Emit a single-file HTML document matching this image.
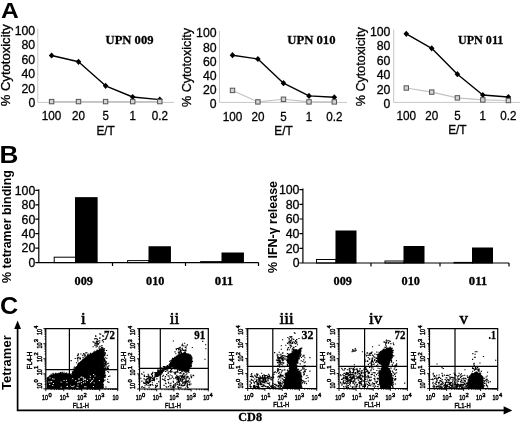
<!DOCTYPE html>
<html lang="en">
<head>
<meta charset="utf-8">
<title>Figure</title>
<style>
html,body{margin:0;padding:0;background:#fff;}
body{width:520px;height:423px;overflow:hidden;}
svg{display:block;}
.s{font-family:'Liberation Sans', Arial, sans-serif;stroke:#000;stroke-width:.3px;}
.sb{font-family:'Liberation Sans', Arial, sans-serif;font-weight:bold;}
.r{font-family:'Liberation Serif', 'Times New Roman', serif;}
.rb{font-family:'Liberation Serif', 'Times New Roman', serif;font-weight:bold;stroke:#000;stroke-width:.3px;}
</style>
</head>
<body>
<svg width="520" height="423" viewBox="0 0 520 423">
<defs><filter id="soft" x="0" y="0" width="520" height="423" filterUnits="userSpaceOnUse"><feGaussianBlur stdDeviation="0.4"/></filter></defs>
<rect width="520" height="423" fill="#fff"/>
<g filter="url(#soft)">
<text class="sb" font-size="22.3" textLength="17.8" lengthAdjust="spacingAndGlyphs" x="1.0" y="18.2">A</text>
<text class="sb" font-size="23" textLength="18.9" lengthAdjust="spacingAndGlyphs" x="-0.5" y="163.2">B</text>
<text class="sb" font-size="23" textLength="18.2" lengthAdjust="spacingAndGlyphs" x="-0.1" y="313.7">C</text>
<path d="M37.8 28.5V102.4H174" fill="none" stroke="#c6c6c6" stroke-width="1"/>
<text class="s" font-size="12" textLength="6.8" lengthAdjust="spacingAndGlyphs" x="28.4" y="107.4">0</text>
<text class="s" font-size="12" textLength="13.7" lengthAdjust="spacingAndGlyphs" x="21.5" y="92.9">20</text>
<text class="s" font-size="12" textLength="13.7" lengthAdjust="spacingAndGlyphs" x="21.5" y="78.4">40</text>
<text class="s" font-size="12" textLength="13.7" lengthAdjust="spacingAndGlyphs" x="21.5" y="63.8">60</text>
<text class="s" font-size="12" textLength="13.7" lengthAdjust="spacingAndGlyphs" x="21.5" y="49.3">80</text>
<text class="s" font-size="12" textLength="20.5" lengthAdjust="spacingAndGlyphs" x="14.7" y="34.8">100</text>
<text class="s" font-size="12" textLength="82" lengthAdjust="spacingAndGlyphs" transform="translate(9.7 106.3) rotate(-90)">% Cytotoxicity</text>
<polyline points="51.6,101.6 78.5,101.6 105.6,101.6 132.7,101.6 159.8,101.6" fill="none" stroke="#c2c2c2" stroke-width="1.1"/>
<polyline points="51.6,55.5 78.5,61.8 105.6,85.8 132.7,97 159.8,99.6" fill="none" stroke="#000" stroke-width="1.4" stroke-linejoin="round"/>
<path d="M48.8 55.5L51.6 52.4L54.4 55.5L51.6 58.6Z" fill="#000"/>
<path d="M75.7 61.8L78.5 58.7L81.3 61.8L78.5 64.9Z" fill="#000"/>
<path d="M102.8 85.8L105.6 82.7L108.4 85.8L105.6 88.9Z" fill="#000"/>
<path d="M129.9 97L132.7 93.9L135.5 97L132.7 100.1Z" fill="#000"/>
<path d="M157.0 99.6L159.8 96.5L162.6 99.6L159.8 102.7Z" fill="#000"/>
<rect x="49.4" y="99.4" width="4.4" height="4.4" fill="#d4d4d4" stroke="#555" stroke-width="1"/>
<rect x="76.3" y="99.4" width="4.4" height="4.4" fill="#d4d4d4" stroke="#555" stroke-width="1"/>
<rect x="103.4" y="99.4" width="4.4" height="4.4" fill="#d4d4d4" stroke="#555" stroke-width="1"/>
<rect x="130.5" y="99.4" width="4.4" height="4.4" fill="#d4d4d4" stroke="#555" stroke-width="1"/>
<rect x="157.6" y="99.4" width="4.4" height="4.4" fill="#d4d4d4" stroke="#555" stroke-width="1"/>
<text class="s" font-size="12" textLength="19.6" lengthAdjust="spacingAndGlyphs" x="41.8" y="120.4">100</text>
<text class="s" font-size="12" textLength="13.0" lengthAdjust="spacingAndGlyphs" x="72.0" y="120.4">20</text>
<text class="s" font-size="12" textLength="6.4" lengthAdjust="spacingAndGlyphs" x="102.4" y="120.4">5</text>
<text class="s" font-size="12" textLength="6.4" lengthAdjust="spacingAndGlyphs" x="129.5" y="120.4">1</text>
<text class="s" font-size="12" textLength="16.2" lengthAdjust="spacingAndGlyphs" x="151.7" y="120.4">0.2</text>
<text class="s" font-size="12" textLength="18.4" lengthAdjust="spacingAndGlyphs" x="96.4" y="135">E/T</text>
<text class="rb" font-size="13.5" textLength="47.9" lengthAdjust="spacingAndGlyphs" x="105.6" y="43.7">UPN 009</text>
<path d="M219.5 31V102.4H347" fill="none" stroke="#c6c6c6" stroke-width="1"/>
<text class="s" font-size="12" textLength="6.8" lengthAdjust="spacingAndGlyphs" x="209.8" y="108.1">0</text>
<text class="s" font-size="12" textLength="13.7" lengthAdjust="spacingAndGlyphs" x="202.9" y="93.9">20</text>
<text class="s" font-size="12" textLength="13.7" lengthAdjust="spacingAndGlyphs" x="202.9" y="79.8">40</text>
<text class="s" font-size="12" textLength="13.7" lengthAdjust="spacingAndGlyphs" x="202.9" y="65.6">60</text>
<text class="s" font-size="12" textLength="13.7" lengthAdjust="spacingAndGlyphs" x="202.9" y="51.5">80</text>
<text class="s" font-size="12" textLength="20.5" lengthAdjust="spacingAndGlyphs" x="196.1" y="37.3">100</text>
<text class="s" font-size="12" textLength="79" lengthAdjust="spacingAndGlyphs" transform="translate(191 107) rotate(-90)">% Cytotoxicity</text>
<polyline points="232.5,90.4 257.9,101.9 283.5,99.3 309,101.9 334.3,101.9" fill="none" stroke="#c2c2c2" stroke-width="1.1"/>
<polyline points="232.5,55.2 257.9,59 283.5,83.2 309,95.9 334.3,97.3" fill="none" stroke="#000" stroke-width="1.4" stroke-linejoin="round"/>
<path d="M229.7 55.2L232.5 52.1L235.3 55.2L232.5 58.3Z" fill="#000"/>
<path d="M255.1 59L257.9 55.9L260.7 59L257.9 62.1Z" fill="#000"/>
<path d="M280.7 83.2L283.5 80.1L286.3 83.2L283.5 86.3Z" fill="#000"/>
<path d="M306.2 95.9L309 92.8L311.8 95.9L309 99.0Z" fill="#000"/>
<path d="M331.5 97.3L334.3 94.2L337.1 97.3L334.3 100.4Z" fill="#000"/>
<rect x="230.3" y="88.2" width="4.4" height="4.4" fill="#d4d4d4" stroke="#555" stroke-width="1"/>
<rect x="255.7" y="99.7" width="4.4" height="4.4" fill="#d4d4d4" stroke="#555" stroke-width="1"/>
<rect x="281.3" y="97.1" width="4.4" height="4.4" fill="#d4d4d4" stroke="#555" stroke-width="1"/>
<rect x="306.8" y="99.7" width="4.4" height="4.4" fill="#d4d4d4" stroke="#555" stroke-width="1"/>
<rect x="332.1" y="99.7" width="4.4" height="4.4" fill="#d4d4d4" stroke="#555" stroke-width="1"/>
<text class="s" font-size="12" textLength="19.6" lengthAdjust="spacingAndGlyphs" x="222.7" y="121">100</text>
<text class="s" font-size="12" textLength="13.0" lengthAdjust="spacingAndGlyphs" x="251.4" y="121">20</text>
<text class="s" font-size="12" textLength="6.4" lengthAdjust="spacingAndGlyphs" x="280.3" y="121">5</text>
<text class="s" font-size="12" textLength="6.4" lengthAdjust="spacingAndGlyphs" x="305.8" y="121">1</text>
<text class="s" font-size="12" textLength="16.2" lengthAdjust="spacingAndGlyphs" x="326.2" y="121">0.2</text>
<text class="s" font-size="12" textLength="18.4" lengthAdjust="spacingAndGlyphs" x="274.3" y="134.5">E/T</text>
<text class="rb" font-size="13.5" textLength="48.2" lengthAdjust="spacingAndGlyphs" x="287.3" y="43.7">UPN 010</text>
<path d="M393.7 29.5V102.4H520" fill="none" stroke="#c6c6c6" stroke-width="1"/>
<text class="s" font-size="12" textLength="6.8" lengthAdjust="spacingAndGlyphs" x="383.6" y="108.1">0</text>
<text class="s" font-size="12" textLength="13.7" lengthAdjust="spacingAndGlyphs" x="376.7" y="93.6">20</text>
<text class="s" font-size="12" textLength="13.7" lengthAdjust="spacingAndGlyphs" x="376.7" y="79.2">40</text>
<text class="s" font-size="12" textLength="13.7" lengthAdjust="spacingAndGlyphs" x="376.7" y="64.7">60</text>
<text class="s" font-size="12" textLength="13.7" lengthAdjust="spacingAndGlyphs" x="376.7" y="50.3">80</text>
<text class="s" font-size="12" textLength="20.5" lengthAdjust="spacingAndGlyphs" x="369.9" y="35.8">100</text>
<text class="s" font-size="12" textLength="79" lengthAdjust="spacingAndGlyphs" transform="translate(365 106.3) rotate(-90)">% Cytotoxicity</text>
<polyline points="406.3,88 431.7,92.1 457.4,97.9 482.8,99.9 508.4,100.5" fill="none" stroke="#c2c2c2" stroke-width="1.1"/>
<polyline points="406.3,33.8 431.7,48.3 457.4,74.2 482.8,95 508.4,97" fill="none" stroke="#000" stroke-width="1.4" stroke-linejoin="round"/>
<path d="M403.5 33.8L406.3 30.7L409.1 33.8L406.3 36.9Z" fill="#000"/>
<path d="M428.9 48.3L431.7 45.2L434.5 48.3L431.7 51.4Z" fill="#000"/>
<path d="M454.6 74.2L457.4 71.1L460.2 74.2L457.4 77.3Z" fill="#000"/>
<path d="M480.0 95L482.8 91.9L485.6 95L482.8 98.1Z" fill="#000"/>
<path d="M505.6 97L508.4 93.9L511.2 97L508.4 100.1Z" fill="#000"/>
<rect x="404.1" y="85.8" width="4.4" height="4.4" fill="#d4d4d4" stroke="#555" stroke-width="1"/>
<rect x="429.5" y="89.9" width="4.4" height="4.4" fill="#d4d4d4" stroke="#555" stroke-width="1"/>
<rect x="455.2" y="95.7" width="4.4" height="4.4" fill="#d4d4d4" stroke="#555" stroke-width="1"/>
<rect x="480.6" y="97.7" width="4.4" height="4.4" fill="#d4d4d4" stroke="#555" stroke-width="1"/>
<rect x="506.2" y="98.3" width="4.4" height="4.4" fill="#d4d4d4" stroke="#555" stroke-width="1"/>
<text class="s" font-size="12" textLength="19.6" lengthAdjust="spacingAndGlyphs" x="396.5" y="120.4">100</text>
<text class="s" font-size="12" textLength="13.0" lengthAdjust="spacingAndGlyphs" x="425.2" y="120.4">20</text>
<text class="s" font-size="12" textLength="6.4" lengthAdjust="spacingAndGlyphs" x="454.2" y="120.4">5</text>
<text class="s" font-size="12" textLength="6.4" lengthAdjust="spacingAndGlyphs" x="479.6" y="120.4">1</text>
<text class="s" font-size="12" textLength="16.2" lengthAdjust="spacingAndGlyphs" x="500.3" y="120.4">0.2</text>
<text class="s" font-size="12" textLength="18.4" lengthAdjust="spacingAndGlyphs" x="448.2" y="134">E/T</text>
<text class="rb" font-size="13.5" textLength="45.3" lengthAdjust="spacingAndGlyphs" x="458" y="43.7">UPN 011</text>
<rect x="54.2" y="257.2" width="21.3" height="5.4" fill="#fff" stroke="#000" stroke-width="1"/>
<rect x="75.5" y="197.7" width="21.6" height="64.9" fill="#000" stroke="#000" stroke-width="1"/>
<rect x="127.6" y="260.6" width="21.4" height="2.0" fill="#fff" stroke="#000" stroke-width="1"/>
<rect x="149" y="246.8" width="21.4" height="15.8" fill="#000" stroke="#000" stroke-width="1"/>
<rect x="200.6" y="261.6" width="21.4" height="1.0" fill="#fff" stroke="#000" stroke-width="1"/>
<rect x="222" y="253" width="21.4" height="9.6" fill="#000" stroke="#000" stroke-width="1"/>
<path d="M38.8 189.3V262.6H258.5M112.5 262.6v3.5M185.5 262.6v3.5M258.5 262.6v3.5M35.3 262.6H38.8M35.3 248.1H38.8M35.3 233.7H38.8M35.3 219.2H38.8M35.3 204.8H38.8M35.3 190.3H38.8" fill="none" stroke="#000" stroke-width="1.2"/>
<text class="s" font-size="12" textLength="6.8" lengthAdjust="spacingAndGlyphs" x="28.5" y="266.9">0</text>
<text class="s" font-size="12" textLength="13.8" lengthAdjust="spacingAndGlyphs" x="21.5" y="252.4">20</text>
<text class="s" font-size="12" textLength="13.8" lengthAdjust="spacingAndGlyphs" x="21.5" y="238.0">40</text>
<text class="s" font-size="12" textLength="13.8" lengthAdjust="spacingAndGlyphs" x="21.5" y="223.5">60</text>
<text class="s" font-size="12" textLength="13.8" lengthAdjust="spacingAndGlyphs" x="21.5" y="209.1">80</text>
<text class="s" font-size="12" textLength="20.6" lengthAdjust="spacingAndGlyphs" x="14.7" y="194.6">100</text>
<text class="rb" font-size="12.5" textLength="18.4" lengthAdjust="spacingAndGlyphs" x="74.6" y="284.6">009</text>
<text class="rb" font-size="12.5" textLength="18.4" lengthAdjust="spacingAndGlyphs" x="146.1" y="284.6">010</text>
<text class="rb" font-size="12.5" textLength="18.4" lengthAdjust="spacingAndGlyphs" x="214.8" y="284.6">011</text>
<text class="sb" font-size="13" textLength="113" lengthAdjust="spacingAndGlyphs" transform="translate(10.9 283) rotate(-90)">% tetramer binding</text>
<rect x="316.5" y="259.5" width="19.5" height="3.5" fill="#fff" stroke="#000" stroke-width="1"/>
<rect x="336" y="231" width="20" height="32" fill="#000" stroke="#000" stroke-width="1"/>
<rect x="385" y="261" width="19" height="2" fill="#fff" stroke="#000" stroke-width="1"/>
<rect x="404" y="246.5" width="20" height="16.5" fill="#000" stroke="#000" stroke-width="1"/>
<rect x="454" y="262.4" width="18.5" height="0.6" fill="#fff" stroke="#000" stroke-width="1"/>
<rect x="472.5" y="248" width="20.0" height="15" fill="#000" stroke="#000" stroke-width="1"/>
<path d="M302.9 188.6V263H509M371 263v3.5M440 263v3.5M509 263v3.5M299.4 263.0H302.9M299.4 248.3H302.9M299.4 233.6H302.9M299.4 219.0H302.9M299.4 204.3H302.9M299.4 189.6H302.9" fill="none" stroke="#000" stroke-width="1.2"/>
<text class="s" font-size="12" textLength="6.8" lengthAdjust="spacingAndGlyphs" x="292.7" y="267.3">0</text>
<text class="s" font-size="12" textLength="13.8" lengthAdjust="spacingAndGlyphs" x="285.7" y="252.6">20</text>
<text class="s" font-size="12" textLength="13.8" lengthAdjust="spacingAndGlyphs" x="285.7" y="237.9">40</text>
<text class="s" font-size="12" textLength="13.8" lengthAdjust="spacingAndGlyphs" x="285.7" y="223.3">60</text>
<text class="s" font-size="12" textLength="13.8" lengthAdjust="spacingAndGlyphs" x="285.7" y="208.6">80</text>
<text class="s" font-size="12" textLength="20.6" lengthAdjust="spacingAndGlyphs" x="278.9" y="193.9">100</text>
<text class="rb" font-size="12.5" textLength="18.4" lengthAdjust="spacingAndGlyphs" x="333.5" y="284.6">009</text>
<text class="rb" font-size="12.5" textLength="18.4" lengthAdjust="spacingAndGlyphs" x="401.5" y="284.6">010</text>
<text class="rb" font-size="12.5" textLength="18.4" lengthAdjust="spacingAndGlyphs" x="468.8" y="284.6">011</text>
<text class="sb" font-size="13" textLength="92" lengthAdjust="spacingAndGlyphs" transform="translate(276.8 273) rotate(-90)">% IFN-&#947; release</text>
<path d="M17.6 327V410.3H505" fill="none" stroke="#000" stroke-width="1.7"/>
<path d="M17.6 320.5L21 329H14.2Z" fill="#000"/>
<path d="M512.3 410.4L503.6 406.3V414.5Z" fill="#000"/>
<text class="sb" font-size="12.8" textLength="54.7" lengthAdjust="spacingAndGlyphs" transform="translate(10.9 390) rotate(-90)">Tetramer</text>
<text class="rb" font-size="12" textLength="23.7" lengthAdjust="spacingAndGlyphs" x="238.3" y="421.3">CD8</text>
<path d="M47.0 388.5L47.0 378.0L51.0 375.5L56.0 374.0L61.5 373.3L67.0 374.0L71.0 375.5L72.0 388.5Z" fill="#000" stroke="#000" stroke-width="0.8" stroke-linejoin="round"/>
<path d="M72.0 388.5L72.0 376.0L73.5 371.0L76.2 367.0L79.5 363.0L83.5 359.0L89.0 355.3L94.5 352.3L99.0 350.3L102.6 348.3L103.8 350.0L103.6 360.0L104.0 370.0L103.0 380.0L102.5 388.5Z" fill="#000" stroke="#000" stroke-width="0.8" stroke-linejoin="round"/>
<path d="M47.6 386.0h.1M47.3 384.1h.1M47.2 383.7h.1M47.4 387.5h.1M47.5 387.4h.1M47.4 380.8h.1M47.5 387.8h.1M47.1 380.5h.1M47.8 379.4h.1M48.1 382.0h.1M48.4 381.6h.1M47.3 378.0h.1M48.7 378.2h.1M47.5 378.4h.1M51.2 376.2h.1M50.2 375.7h.1M50.3 376.6h.1M49.8 375.8h.1M47.8 378.1h.1M48.8 377.4h.1M51.1 374.2h.1M53.4 374.4h.1M55.9 375.0h.1M55.8 373.4h.1M52.7 375.1h.1M54.4 374.7h.1M52.4 375.8h.1M51.7 375.4h.1M51.4 375.5h.1M55.1 373.9h.1M51.9 375.7h.1M53.0 373.4h.1M58.2 373.7h.1M56.2 374.4h.1M60.6 373.6h.1M60.8 373.3h.1M59.9 373.8h.1M62.1 372.4h.1M57.1 374.2h.1M59.0 373.2h.1M58.0 375.1h.1M62.2 372.2h.1M60.5 372.9h.1M58.7 373.8h.1M56.0 374.6h.1M66.1 373.6h.1M68.5 373.8h.1M63.6 374.1h.1M62.9 374.4h.1M66.9 373.2h.1M65.2 373.5h.1M66.2 373.1h.1M65.2 373.9h.1M65.2 375.0h.1M66.2 374.4h.1M66.6 373.5h.1M63.1 374.7h.1M66.8 375.0h.1M70.5 374.9h.1M69.3 374.9h.1M70.3 374.7h.1M69.3 376.0h.1M70.4 375.8h.1M68.2 375.4h.1M67.7 374.6h.1M70.1 376.0h.1M70.0 374.4h.1M69.7 375.4h.1M72.3 382.4h.1M72.5 377.9h.1M70.0 377.9h.1M71.1 383.5h.1M71.6 382.4h.1M71.6 383.4h.1M70.8 385.5h.1M72.5 385.0h.1M70.7 383.4h.1M70.8 384.8h.1M72.6 381.3h.1M72.4 386.7h.1M72.9 382.3h.1M71.7 377.8h.1M71.1 376.7h.1M72.0 382.6h.1M70.9 376.4h.1M72.6 376.0h.1M71.9 378.1h.1M72.9 381.7h.1M70.3 378.0h.1M71.6 380.5h.1M72.7 385.0h.1M72.1 381.3h.1M71.4 383.6h.1M72.5 386.4h.1M71.1 377.1h.1M71.7 386.0h.1M72.6 380.3h.1M72.3 380.2h.1M71.5 382.6h.1M70.3 387.8h.1M71.2 387.1h.1M53.2 387.1h.1M70.9 387.9h.1M61.9 387.7h.1M65.9 387.3h.1M66.4 387.0h.1M70.9 387.0h.1M64.4 387.9h.1M59.8 387.4h.1M71.5 387.4h.1M53.2 387.3h.1M60.5 387.7h.1M50.7 387.7h.1M50.4 387.7h.1M55.5 387.2h.1M50.9 387.5h.1M61.7 387.5h.1M69.9 387.3h.1M65.8 387.5h.1M51.7 387.7h.1M65.0 387.4h.1M61.0 387.8h.1M67.4 387.9h.1M58.4 386.9h.1M64.2 387.5h.1M61.6 387.8h.1M66.9 387.3h.1M66.0 387.1h.1M71.6 387.7h.1M65.4 387.3h.1M52.6 387.5h.1M49.5 387.6h.1M48.1 387.4h.1M57.3 387.9h.1M48.9 387.6h.1M52.3 387.9h.1M60.1 387.3h.1M50.0 387.7h.1M54.7 386.9h.1M71.7 387.0h.1M69.9 387.7h.1M55.5 387.7h.1M61.1 387.4h.1M52.4 387.3h.1M56.6 387.6h.1M66.2 387.1h.1M54.1 387.5h.1M59.5 387.3h.1M56.4 387.0h.1M68.3 387.1h.1M64.3 387.1h.1M70.4 386.9h.1M54.4 387.6h.1M58.3 387.9h.1M69.4 387.7h.1M47.7 387.7h.1M61.4 386.7h.1M60.7 387.8h.1M72.2 377.6h.1M70.2 386.4h.1M72.4 386.0h.1M71.8 376.9h.1M71.8 377.3h.1M71.2 387.8h.1M72.4 385.3h.1M72.0 384.5h.1M72.2 378.8h.1M71.6 375.3h.1M71.5 385.4h.1M71.4 375.6h.1M72.0 383.4h.1M72.3 386.7h.1M72.0 377.4h.1M72.3 382.8h.1M73.0 375.6h.1M73.5 379.7h.1M72.0 381.4h.1M70.8 379.7h.1M71.9 380.7h.1M72.6 377.5h.1M71.6 385.4h.1M71.9 377.4h.1M71.3 384.5h.1M72.3 386.8h.1M71.5 377.2h.1M72.8 377.2h.1M72.1 387.1h.1M72.5 384.5h.1M71.0 374.0h.1M72.5 372.7h.1M72.3 373.9h.1M71.8 377.6h.1M71.1 375.3h.1M73.4 372.3h.1M71.7 375.2h.1M74.3 370.0h.1M73.2 376.1h.1M72.4 371.7h.1M70.7 377.1h.1M74.5 370.3h.1M74.5 370.3h.1M74.2 367.3h.1M74.7 367.1h.1M74.5 369.1h.1M75.8 369.5h.1M75.1 368.8h.1M73.4 369.1h.1M74.6 370.9h.1M74.7 369.0h.1M75.8 368.6h.1M75.8 368.9h.1M78.6 363.5h.1M78.2 365.7h.1M78.1 365.9h.1M77.9 364.6h.1M78.9 364.1h.1M75.9 367.5h.1M78.9 365.5h.1M78.1 364.0h.1M78.9 364.4h.1M77.2 367.3h.1M78.0 365.6h.1M76.9 367.0h.1M82.6 360.2h.1M81.5 363.4h.1M80.3 362.5h.1M82.3 360.5h.1M84.2 360.0h.1M81.5 363.3h.1M83.6 360.2h.1M80.5 362.0h.1M80.8 362.3h.1M81.3 361.5h.1M83.5 359.8h.1M83.1 359.0h.1M79.0 362.9h.1M88.8 356.3h.1M89.2 355.8h.1M88.0 355.8h.1M85.2 359.5h.1M84.9 356.4h.1M85.1 359.6h.1M86.8 357.9h.1M85.2 357.9h.1M88.6 355.7h.1M89.2 355.6h.1M87.9 356.7h.1M85.6 358.4h.1M86.6 357.0h.1M87.8 354.6h.1M87.2 355.7h.1M89.9 355.3h.1M89.8 356.2h.1M90.5 354.6h.1M91.1 355.5h.1M94.4 352.6h.1M90.2 355.5h.1M92.4 353.3h.1M90.5 353.3h.1M93.7 352.1h.1M90.0 354.4h.1M91.3 354.5h.1M90.1 355.3h.1M90.6 354.2h.1M88.9 355.7h.1M91.9 355.1h.1M97.8 351.0h.1M97.2 350.0h.1M99.2 350.6h.1M95.8 353.9h.1M97.8 350.8h.1M97.8 350.8h.1M98.3 350.6h.1M96.8 350.7h.1M96.5 352.0h.1M94.8 351.2h.1M96.1 351.9h.1M101.7 349.5h.1M100.0 349.0h.1M99.8 350.6h.1M100.8 348.9h.1M99.3 349.2h.1M99.4 351.5h.1M99.5 349.4h.1M102.2 347.6h.1M100.7 350.7h.1M104.5 348.7h.1M103.4 348.3h.1M103.2 349.9h.1M101.6 348.0h.1M104.5 359.7h.1M103.3 353.7h.1M102.0 352.6h.1M102.4 351.2h.1M103.7 360.0h.1M104.5 359.3h.1M104.5 350.2h.1M102.6 358.1h.1M103.9 351.1h.1M104.5 352.9h.1M103.9 352.6h.1M103.4 355.4h.1M103.5 350.9h.1M102.6 349.9h.1M104.0 350.1h.1M102.7 355.7h.1M102.9 353.5h.1M103.3 353.6h.1M104.7 354.5h.1M103.8 356.2h.1M103.2 357.9h.1M104.0 355.0h.1M104.4 354.7h.1M104.7 355.4h.1M103.5 359.5h.1M104.6 365.4h.1M104.1 363.7h.1M105.2 368.5h.1M104.7 370.1h.1M105.4 364.5h.1M104.1 360.0h.1M102.9 361.7h.1M104.1 361.2h.1M104.5 368.9h.1M104.1 369.8h.1M103.7 365.2h.1M104.6 363.3h.1M104.2 366.5h.1M104.6 368.5h.1M102.9 367.5h.1M102.5 364.8h.1M104.7 361.0h.1M103.9 363.4h.1M103.4 369.6h.1M103.5 367.8h.1M105.2 367.9h.1M102.3 360.9h.1M103.5 365.3h.1M104.4 370.1h.1M102.6 376.5h.1M103.5 379.4h.1M103.4 376.5h.1M104.2 374.0h.1M102.9 371.7h.1M103.2 371.4h.1M104.4 371.1h.1M104.7 372.1h.1M103.3 378.0h.1M104.8 372.7h.1M102.8 376.5h.1M104.7 374.0h.1M103.9 372.4h.1M103.0 375.6h.1M104.0 370.5h.1M103.8 375.4h.1M103.1 371.4h.1M103.5 376.0h.1M103.6 373.3h.1M103.4 377.7h.1M104.7 369.0h.1M103.5 373.8h.1M104.2 372.6h.1M102.3 381.4h.1M103.3 384.9h.1M102.1 382.0h.1M102.0 386.6h.1M103.2 385.3h.1M103.1 387.5h.1M102.8 380.2h.1M101.9 387.7h.1M102.9 384.4h.1M102.3 384.3h.1M101.1 387.3h.1M103.2 385.3h.1M102.1 385.9h.1M102.7 381.6h.1M102.7 387.9h.1M103.6 380.6h.1M103.1 381.2h.1M101.9 385.0h.1M103.5 386.7h.1M103.4 381.8h.1M76.7 387.0h.1M74.9 387.4h.1M96.4 387.0h.1M77.0 387.5h.1M76.9 387.0h.1M100.5 387.8h.1M95.9 387.3h.1M101.8 387.5h.1M80.2 387.8h.1M71.6 386.9h.1M84.4 387.6h.1M89.3 387.8h.1M80.5 387.3h.1M77.4 387.3h.1M97.8 386.9h.1M79.3 387.2h.1M86.2 387.5h.1M96.2 387.5h.1M77.0 387.7h.1M94.1 386.9h.1M88.1 386.9h.1M100.3 387.4h.1M78.0 387.7h.1M89.0 387.9h.1M100.0 387.6h.1M96.1 387.5h.1M86.1 387.0h.1M94.5 387.0h.1M79.5 387.4h.1M91.7 387.1h.1M76.1 387.4h.1M96.1 387.9h.1M85.4 387.1h.1M75.5 387.2h.1M92.9 387.1h.1M98.1 387.3h.1M92.1 386.9h.1M93.3 387.8h.1M81.8 387.8h.1M97.8 387.1h.1M78.2 387.7h.1M96.3 387.0h.1M96.1 387.2h.1M90.6 387.4h.1M86.7 387.9h.1M97.6 387.6h.1M80.6 387.3h.1M85.0 387.7h.1M95.3 387.0h.1M78.4 387.1h.1M81.3 387.9h.1M92.7 387.1h.1M89.9 387.3h.1M83.3 387.8h.1M88.1 387.6h.1M82.3 387.6h.1M82.7 387.8h.1M87.8 387.8h.1M86.6 387.4h.1M73.5 387.7h.1M83.8 387.7h.1M86.0 387.4h.1M85.0 387.8h.1M95.8 387.8h.1M80.8 387.2h.1M92.2 387.9h.1M91.1 387.2h.1M89.5 387.8h.1M94.6 387.7h.1M73.3 387.9h.1M77.7 387.0h.1M98.8 387.2h.1M82.2 387.7h.1M99.6 350.8h.1M96.1 346.9h.1M100.7 334.2h.1M96.2 343.1h.1M97.1 341.5h.1M99.8 337.8h.1M99.8 338.5h.1M97.0 344.2h.1M96.9 343.3h.1M103.0 339.7h.1M98.1 344.5h.1M97.5 346.1h.1M94.9 345.4h.1M97.1 339.1h.1M103.5 336.1h.1M103.4 341.9h.1M102.6 336.0h.1M101.9 345.6h.1M98.2 341.1h.1M105.4 339.2h.1M97.3 339.6h.1M99.7 342.2h.1M99.0 347.9h.1M97.6 343.7h.1M102.6 335.9h.1M101.4 347.2h.1M94.7 338.9h.1M95.6 335.7h.1M99.8 333.9h.1M99.9 346.4h.1M94.0 342.2h.1M93.1 346.8h.1M96.4 341.4h.1M98.7 343.5h.1M97.5 342.0h.1M97.0 342.6h.1M95.2 343.1h.1M93.1 341.9h.1M103.9 339.5h.1M95.0 344.0h.1M95.8 336.4h.1M96.4 345.2h.1M99.6 340.7h.1M95.9 338.5h.1M102.3 340.8h.1M78.2 353.9h.1M76.5 362.8h.1M77.4 357.9h.1M82.8 355.4h.1M80.9 354.0h.1M77.8 360.9h.1M79.0 358.8h.1M75.2 358.5h.1M83.0 357.4h.1M77.5 359.0h.1M83.5 354.0h.1M83.9 353.6h.1M78.8 357.4h.1M71.1 360.6h.1M78.0 355.1h.1M80.3 358.1h.1M80.4 359.0h.1M77.4 355.7h.1M88.2 354.0h.1M85.8 352.9h.1M85.2 355.1h.1M84.6 354.9h.1M86.8 352.7h.1M78.1 355.0h.1M86.6 352.7h.1M104.4 360.5h.1M105.3 357.8h.1M105.6 363.0h.1M105.2 360.3h.1M106.1 364.3h.1M106.2 370.0h.1M106.5 350.5h.1M105.2 361.6h.1M107.2 355.4h.1M104.9 365.6h.1M105.5 375.9h.1M105.3 375.7h.1M103.8 353.5h.1M107.8 371.5h.1M106.7 369.0h.1M106.7 358.3h.1M107.4 363.7h.1M107.5 368.7h.1M103.0 357.7h.1M107.7 366.9h.1M105.4 369.9h.1M105.4 363.6h.1M106.2 369.2h.1M108.3 368.4h.1M108.8 382.4h.1M108.6 376.5h.1M106.2 369.1h.1M105.8 362.2h.1M105.9 362.9h.1M108.5 372.3h.1M105.3 352.7h.1M105.9 364.7h.1M104.4 358.9h.1M102.6 372.6h.1M105.9 387.0h.1M106.0 366.8h.1M108.2 369.1h.1M106.3 365.0h.1M105.1 380.0h.1M107.5 381.7h.1M105.5 368.2h.1M104.7 375.7h.1M103.9 372.5h.1M107.6 379.3h.1M104.6 376.7h.1M104.9 361.9h.1M104.0 377.2h.1M108.5 363.2h.1M104.9 365.3h.1M109.8 376.0h.1M105.2 353.6h.1M105.0 377.5h.1M108.8 365.9h.1M105.0 363.9h.1M103.2 375.3h.1M104.4 376.5h.1M103.4 357.8h.1M106.4 361.9h.1M107.2 368.1h.1M104.2 373.0h.1M104.0 380.8h.1M102.5 379.3h.1M105.1 375.0h.1M69.4 334.6h.1M60.4 372.6h.1M88.2 368.7h.1M64.0 372.3h.1" fill="none" stroke="#000" stroke-width="1.1" stroke-linecap="square"/>
<path d="M85.9 386.8h.1M72.9 386.7h.1M78.8 379.1h.1M81.7 377.0h.1M83.5 382.7h.1M75.7 380.6h.1M85.4 379.7h.1M77.0 387.3h.1M71.9 386.5h.1M79.1 378.9h.1M77.9 387.9h.1M72.7 378.7h.1M83.4 378.8h.1M84.7 379.4h.1M85.3 382.1h.1M80.9 377.3h.1M83.2 377.6h.1M81.3 381.6h.1M81.6 383.8h.1M83.4 380.2h.1M85.1 378.9h.1M74.0 385.9h.1M77.7 382.7h.1M78.9 382.0h.1M84.7 386.7h.1M78.0 385.0h.1M79.7 381.9h.1M53.9 379.1h.1M49.6 384.4h.1M52.6 378.8h.1M51.4 381.6h.1M53.4 383.5h.1M50.9 381.7h.1M49.9 377.9h.1M48.9 382.0h.1M52.7 385.6h.1M66.9 382.7h.1M66.4 380.3h.1M61.2 387.2h.1M67.4 386.3h.1M69.3 387.5h.1M64.0 380.4h.1M61.1 382.1h.1M69.9 385.2h.1M67.0 386.6h.1M94.9 376.0h.1M93.4 386.6h.1M93.5 378.9h.1M90.6 382.6h.1M99.3 380.6h.1M93.6 374.5h.1M90.1 378.7h.1M87.4 380.4h.1M94.1 382.9h.1M92.2 380.5h.1M90.4 376.2h.1M91.6 381.4h.1" fill="none" stroke="#fff" stroke-width="1.0" stroke-linecap="square"/>
<path d="M45.8 328.6H117.7V388.8H45.8Z" fill="none" stroke="#000" stroke-width="1.2"/>
<path d="M69.4 328.6V388.8M45.8 369.6H117.7" fill="none" stroke="#000" stroke-width="1.2"/>
<path d="M45.8 388.8v2.4M45.8 388.8h-2.4M51.2 388.8v1.2M45.8 384.3h-1.2M54.4 388.8v1.2M45.8 381.6h-1.2M56.6 388.8v1.2M45.8 379.7h-1.2M58.4 388.8v1.2M45.8 378.3h-1.2M59.8 388.8v1.2M45.8 377.1h-1.2M61.0 388.8v1.2M45.8 376.1h-1.2M62.0 388.8v1.2M45.8 375.2h-1.2M63.0 388.8v1.2M45.8 374.4h-1.2M63.8 388.8v2.4M45.8 373.8h-2.4M69.2 388.8v1.2M45.8 369.2h-1.2M72.4 388.8v1.2M45.8 366.6h-1.2M74.6 388.8v1.2M45.8 364.7h-1.2M76.3 388.8v1.2M45.8 363.2h-1.2M77.8 388.8v1.2M45.8 362.0h-1.2M79.0 388.8v1.2M45.8 361.0h-1.2M80.0 388.8v1.2M45.8 360.2h-1.2M80.9 388.8v1.2M45.8 359.4h-1.2M81.8 388.8v2.4M45.8 358.7h-2.4M87.2 388.8v1.2M45.8 354.2h-1.2M90.3 388.8v1.2M45.8 351.5h-1.2M92.6 388.8v1.2M45.8 349.6h-1.2M94.3 388.8v1.2M45.8 348.2h-1.2M95.7 388.8v1.2M45.8 347.0h-1.2M96.9 388.8v1.2M45.8 346.0h-1.2M98.0 388.8v1.2M45.8 345.1h-1.2M98.9 388.8v1.2M45.8 344.3h-1.2M99.7 388.8v2.4M45.8 343.7h-2.4M105.1 388.8v1.2M45.8 339.1h-1.2M108.3 388.8v1.2M45.8 336.5h-1.2M110.5 388.8v1.2M45.8 334.6h-1.2M112.3 388.8v1.2M45.8 333.1h-1.2M113.7 388.8v1.2M45.8 331.9h-1.2M114.9 388.8v1.2M45.8 330.9h-1.2M116.0 388.8v1.2M45.8 330.1h-1.2M116.9 388.8v1.2M45.8 329.3h-1.2M117.7 388.8v2.4M45.8 328.6h-2.4" fill="none" stroke="#000" stroke-width="0.9"/>
<text class="s" font-size="7" textLength="6" lengthAdjust="spacingAndGlyphs" x="42.1" y="400.2" style="stroke-width:.45px">10</text>
<text class="s" font-size="6" textLength="3.2" lengthAdjust="spacingAndGlyphs" x="48.4" y="397.2" style="stroke-width:.45px">0</text>
<text class="s" font-size="7" textLength="6" lengthAdjust="spacingAndGlyphs" transform="translate(41.5 388.7) rotate(-90)" style="stroke-width:.45px">10</text>
<text class="s" font-size="6" textLength="3.2" lengthAdjust="spacingAndGlyphs" transform="translate(38.0 382.4) rotate(-90)" style="stroke-width:.45px">0</text>
<text class="s" font-size="7" textLength="6" lengthAdjust="spacingAndGlyphs" x="59.7" y="400.2" style="stroke-width:.45px">10</text>
<text class="s" font-size="6" textLength="3.2" lengthAdjust="spacingAndGlyphs" x="66.0" y="397.2" style="stroke-width:.45px">1</text>
<text class="s" font-size="7" textLength="6" lengthAdjust="spacingAndGlyphs" transform="translate(41.5 375.3) rotate(-90)" style="stroke-width:.45px">10</text>
<text class="s" font-size="6" textLength="3.2" lengthAdjust="spacingAndGlyphs" transform="translate(38.0 369.0) rotate(-90)" style="stroke-width:.45px">1</text>
<text class="s" font-size="7" textLength="6" lengthAdjust="spacingAndGlyphs" x="77.3" y="400.2" style="stroke-width:.45px">10</text>
<text class="s" font-size="6" textLength="3.2" lengthAdjust="spacingAndGlyphs" x="83.6" y="397.2" style="stroke-width:.45px">2</text>
<text class="s" font-size="7" textLength="6" lengthAdjust="spacingAndGlyphs" transform="translate(41.5 361.9) rotate(-90)" style="stroke-width:.45px">10</text>
<text class="s" font-size="6" textLength="3.2" lengthAdjust="spacingAndGlyphs" transform="translate(38.0 355.6) rotate(-90)" style="stroke-width:.45px">2</text>
<text class="s" font-size="7" textLength="6" lengthAdjust="spacingAndGlyphs" x="94.9" y="400.2" style="stroke-width:.45px">10</text>
<text class="s" font-size="6" textLength="3.2" lengthAdjust="spacingAndGlyphs" x="101.2" y="397.2" style="stroke-width:.45px">3</text>
<text class="s" font-size="7" textLength="6" lengthAdjust="spacingAndGlyphs" transform="translate(41.5 348.5) rotate(-90)" style="stroke-width:.45px">10</text>
<text class="s" font-size="6" textLength="3.2" lengthAdjust="spacingAndGlyphs" transform="translate(38.0 342.2) rotate(-90)" style="stroke-width:.45px">3</text>
<text class="s" font-size="7" textLength="6" lengthAdjust="spacingAndGlyphs" x="112.6" y="400.2" style="stroke-width:.45px">10</text>
<text class="s" font-size="7" textLength="6" lengthAdjust="spacingAndGlyphs" transform="translate(41.5 335.1) rotate(-90)" style="stroke-width:.45px">10</text>
<text class="s" font-size="6" textLength="3.2" lengthAdjust="spacingAndGlyphs" transform="translate(38.0 328.8) rotate(-90)" style="stroke-width:.45px">4</text>
<text class="s" font-size="7.2" textLength="16" lengthAdjust="spacingAndGlyphs" x="72.8" y="407.7" style="stroke-width:.45px">FL1-H</text>
<text class="s" font-size="7.2" textLength="17.5" lengthAdjust="spacingAndGlyphs" transform="translate(32.2 369.2) rotate(-90)" style="stroke-width:.45px">FL4-H</text>
<text class="rb" font-size="12" textLength="10.8" lengthAdjust="spacingAndGlyphs" x="104" y="338.8">72</text>
<text class="r" font-size="17" text-anchor="middle" x="83.4" y="324.2" stroke="#000" stroke-width="0.6">i</text>
<path d="M169.5 364.7L173.0 358.9L179.6 354.8L184.6 352.6L190.2 355.6L191.8 360.5L190.6 366.5L188.0 370.6L184.0 371.0L179.0 369.2L173.0 367.6Z" fill="#000" stroke="#000" stroke-width="0.8" stroke-linejoin="round"/>
<path d="M155.0 375.6L156.5 372.5L162.5 369.6L163.3 371.0L159.5 375.0L156.5 376.5Z" fill="#000" stroke="#000" stroke-width="0.8" stroke-linejoin="round"/>
<path d="M172.6 360.7h.1M170.7 364.0h.1M170.6 362.5h.1M170.3 363.7h.1M169.1 364.9h.1M172.5 360.8h.1M172.8 358.7h.1M170.0 363.6h.1M172.5 360.0h.1M171.2 360.5h.1M170.9 360.5h.1M172.3 360.4h.1M173.8 359.7h.1M169.6 361.3h.1M170.4 362.0h.1M172.0 359.2h.1M174.8 357.4h.1M174.2 358.3h.1M175.0 358.5h.1M177.8 355.4h.1M174.1 358.5h.1M176.5 356.4h.1M178.4 356.4h.1M179.0 355.3h.1M175.9 357.1h.1M172.5 358.4h.1M179.2 354.2h.1M178.7 354.7h.1M177.0 356.5h.1M175.8 357.9h.1M177.1 356.1h.1M174.7 357.9h.1M178.2 355.2h.1M175.2 357.3h.1M184.1 353.4h.1M184.0 353.6h.1M184.9 351.8h.1M181.1 353.9h.1M185.3 352.9h.1M182.0 354.4h.1M181.7 353.7h.1M179.8 353.7h.1M182.4 354.0h.1M178.7 355.4h.1M181.1 354.1h.1M181.7 353.3h.1M183.2 354.2h.1M187.6 355.3h.1M188.6 354.2h.1M187.2 354.1h.1M189.1 355.1h.1M184.2 352.9h.1M188.1 354.2h.1M184.8 352.0h.1M188.3 355.1h.1M187.4 354.3h.1M187.4 355.0h.1M188.2 354.3h.1M188.6 354.1h.1M188.1 354.7h.1M190.2 354.9h.1M189.9 354.7h.1M192.0 358.3h.1M191.8 361.0h.1M191.5 359.8h.1M190.3 360.0h.1M190.9 357.4h.1M191.1 356.4h.1M191.8 359.0h.1M190.6 357.6h.1M190.7 355.6h.1M190.8 357.4h.1M191.7 357.0h.1M191.4 358.2h.1M191.5 362.5h.1M190.3 361.8h.1M191.2 365.9h.1M189.6 366.2h.1M192.4 361.5h.1M191.1 362.0h.1M190.8 366.3h.1M190.7 364.4h.1M191.4 365.6h.1M190.7 361.2h.1M191.6 361.4h.1M190.4 364.2h.1M191.7 363.1h.1M190.3 366.6h.1M189.7 366.7h.1M189.2 368.8h.1M189.8 368.2h.1M188.6 370.2h.1M188.5 368.7h.1M188.8 370.5h.1M190.0 365.6h.1M188.7 368.5h.1M188.8 370.8h.1M189.4 367.6h.1M191.3 366.3h.1M185.4 370.9h.1M187.6 371.3h.1M187.1 370.9h.1M186.1 372.2h.1M185.6 370.3h.1M186.0 370.1h.1M188.7 369.5h.1M188.3 371.1h.1M186.1 371.0h.1M183.6 370.3h.1M179.4 369.0h.1M179.5 370.5h.1M179.8 369.8h.1M177.7 370.1h.1M180.4 368.3h.1M180.6 369.9h.1M179.7 370.1h.1M180.2 370.2h.1M183.4 369.6h.1M180.8 370.0h.1M180.3 369.7h.1M178.2 369.7h.1M177.6 369.3h.1M174.5 367.6h.1M176.7 368.7h.1M173.0 368.2h.1M174.3 368.5h.1M177.4 367.8h.1M175.0 369.0h.1M174.2 368.6h.1M174.5 368.3h.1M176.9 368.9h.1M177.7 369.9h.1M176.8 368.9h.1M175.9 368.8h.1M175.1 367.6h.1M171.4 366.0h.1M169.2 364.6h.1M170.8 366.4h.1M172.8 366.1h.1M169.5 364.5h.1M170.7 366.3h.1M173.8 367.4h.1M169.9 365.6h.1M171.7 364.3h.1M155.6 373.7h.1M155.9 373.7h.1M155.9 373.7h.1M154.9 374.9h.1M156.3 375.1h.1M156.4 372.6h.1M157.2 372.5h.1M156.1 374.6h.1M161.0 371.4h.1M155.6 372.7h.1M157.8 372.4h.1M157.6 371.9h.1M162.4 369.0h.1M158.8 372.3h.1M159.0 371.3h.1M158.4 370.0h.1M162.2 370.4h.1M158.5 370.9h.1M158.2 372.3h.1M160.9 370.9h.1M163.6 369.7h.1M160.3 370.5h.1M160.1 370.1h.1M163.8 370.1h.1M162.8 371.2h.1M163.7 370.9h.1M160.4 373.8h.1M160.1 374.4h.1M160.8 372.5h.1M162.2 372.9h.1M159.6 374.5h.1M160.0 374.8h.1M161.3 374.0h.1M161.3 374.2h.1M161.9 371.4h.1M162.7 371.5h.1M162.3 372.0h.1M160.6 373.5h.1M159.5 374.6h.1M156.7 376.5h.1M155.4 375.9h.1M159.1 375.0h.1M158.7 375.4h.1M157.9 376.5h.1M156.0 376.8h.1M158.3 375.2h.1M157.1 376.0h.1M154.7 376.9h.1M155.7 375.5h.1M155.8 374.3h.1M156.4 376.1h.1M185.2 352.2h.1M182.1 348.6h.1M186.3 348.0h.1M181.4 352.0h.1M175.0 351.9h.1M180.0 349.3h.1M183.2 350.2h.1M182.2 348.2h.1M178.7 349.2h.1M180.1 347.3h.1M186.0 354.8h.1M176.2 348.9h.1M184.6 343.2h.1M184.8 350.2h.1M184.0 352.9h.1M186.0 346.1h.1M183.7 350.4h.1M183.8 345.9h.1M178.3 352.1h.1M185.3 354.9h.1M175.8 353.8h.1M180.4 349.2h.1M180.3 351.8h.1M185.3 347.5h.1M183.6 350.5h.1M178.9 352.6h.1M178.3 348.6h.1M181.3 350.3h.1M178.6 348.7h.1M185.5 350.4h.1M182.6 349.9h.1M184.8 353.5h.1M181.1 352.4h.1M178.7 350.0h.1M177.5 348.5h.1M192.3 347.5h.1M186.0 350.8h.1M182.5 344.0h.1M182.3 345.8h.1M179.2 347.9h.1M180.2 355.2h.1M187.4 344.9h.1M180.2 347.7h.1M182.0 345.1h.1M176.4 349.8h.1M178.8 353.1h.1M180.4 350.6h.1M179.8 352.3h.1M185.6 349.8h.1M179.7 351.7h.1M167.2 368.4h.1M167.2 367.5h.1M168.9 366.2h.1M163.9 368.7h.1M166.5 368.2h.1M168.9 367.4h.1M165.6 369.4h.1M161.4 368.1h.1M164.0 370.2h.1M166.1 367.5h.1M168.4 368.4h.1M169.3 366.9h.1M167.4 366.3h.1M167.6 367.1h.1M161.7 369.0h.1M166.7 368.4h.1M168.5 367.2h.1M166.6 369.2h.1M167.5 368.4h.1M168.0 368.6h.1M169.4 365.8h.1M168.3 368.8h.1M170.3 366.4h.1M171.0 367.4h.1M168.6 366.4h.1M168.1 367.8h.1M162.0 368.2h.1M163.4 366.6h.1M167.5 368.3h.1M167.0 366.0h.1M163.9 369.1h.1M166.5 367.9h.1M166.3 367.8h.1M165.4 367.2h.1M163.6 368.4h.1M166.9 368.7h.1M172.7 366.3h.1M160.2 367.9h.1M170.2 367.2h.1M166.6 366.7h.1M168.2 367.5h.1M169.7 368.2h.1M170.9 367.6h.1M164.2 368.8h.1M164.3 367.5h.1M165.1 366.8h.1M165.0 369.5h.1M166.8 369.2h.1M167.4 365.6h.1M165.4 369.5h.1M169.7 366.7h.1M166.5 368.9h.1M168.2 367.0h.1M169.8 366.9h.1M164.6 366.6h.1M162.1 371.1h.1M167.6 369.1h.1M167.5 367.5h.1M167.6 367.6h.1M163.8 368.2h.1M143.7 387.5h.1M144.5 383.5h.1M141.6 387.3h.1M148.5 383.7h.1M149.2 376.9h.1M152.8 372.2h.1M154.7 372.6h.1M156.1 386.6h.1M144.6 376.5h.1M143.9 383.5h.1M157.4 375.2h.1M155.5 387.6h.1M154.4 377.5h.1M155.6 373.4h.1M149.2 380.8h.1M156.4 375.8h.1M144.9 385.8h.1M141.6 373.8h.1M156.5 374.0h.1M144.6 383.4h.1M158.7 381.6h.1M142.0 374.3h.1M141.8 381.1h.1M143.7 372.3h.1M155.4 374.0h.1M148.1 374.3h.1M154.3 380.6h.1M149.0 387.3h.1M157.4 385.3h.1M144.3 376.4h.1M148.8 378.2h.1M152.4 382.8h.1M152.8 379.3h.1M156.8 378.9h.1M144.8 388.0h.1M156.0 375.5h.1M146.5 376.5h.1M155.8 387.0h.1M145.7 382.1h.1M157.5 370.1h.1M150.4 381.5h.1M150.6 385.0h.1M146.5 379.4h.1M145.8 381.9h.1M152.4 375.6h.1M152.6 380.5h.1M142.2 386.6h.1M150.0 385.6h.1M153.8 377.9h.1M157.1 386.1h.1M155.6 385.5h.1M144.2 375.1h.1M150.7 379.8h.1M156.9 383.5h.1M155.5 385.4h.1M147.3 381.3h.1M147.4 378.2h.1M151.4 374.4h.1M149.6 382.1h.1M150.3 384.6h.1M153.6 380.2h.1M151.3 377.6h.1M145.3 383.6h.1M147.9 378.6h.1M153.1 379.1h.1M146.8 384.0h.1M149.1 382.5h.1M146.7 376.8h.1M148.2 382.4h.1M144.0 378.9h.1M152.9 385.2h.1M149.3 377.2h.1M148.6 377.9h.1M154.5 379.7h.1M147.3 382.9h.1M143.5 382.2h.1M150.0 378.9h.1M147.2 378.9h.1M144.4 383.0h.1M147.1 382.3h.1M152.5 376.6h.1M146.4 381.1h.1M152.0 375.0h.1M149.8 376.8h.1M154.4 378.8h.1M145.2 379.9h.1M150.2 378.1h.1M150.2 380.5h.1M150.6 378.1h.1M154.3 380.2h.1M149.1 379.5h.1M148.0 376.4h.1M149.0 380.0h.1M148.9 377.3h.1M140.8 378.3h.1M152.5 373.4h.1M151.7 380.8h.1M149.7 379.6h.1M152.4 378.4h.1M149.8 382.0h.1M149.8 385.0h.1M146.6 379.7h.1M149.1 380.3h.1M148.0 385.5h.1M151.9 373.6h.1M149.9 381.4h.1M153.5 379.2h.1M147.6 382.6h.1M146.0 381.3h.1M146.4 384.6h.1M152.1 384.5h.1M149.1 379.6h.1M148.5 383.2h.1M146.7 382.7h.1M148.9 381.9h.1M150.7 377.0h.1M148.7 375.2h.1M147.2 379.0h.1M191.3 377.7h.1M177.7 382.2h.1M165.4 383.2h.1M177.6 384.4h.1M183.5 377.5h.1M166.7 387.1h.1M166.1 383.7h.1M183.9 373.6h.1M166.7 370.7h.1M188.1 376.9h.1M173.4 382.3h.1M173.3 386.9h.1M162.5 376.2h.1M177.0 372.1h.1M177.0 383.7h.1M168.6 386.6h.1M177.2 376.9h.1M178.5 387.5h.1M188.3 380.6h.1M168.1 373.4h.1M170.6 387.0h.1M193.6 375.6h.1M162.7 376.3h.1M185.3 372.2h.1M165.4 380.9h.1M186.1 380.8h.1M177.5 371.2h.1M178.7 377.6h.1M168.1 372.7h.1M187.4 385.8h.1M166.0 386.8h.1M177.9 372.3h.1M178.1 379.7h.1M175.1 374.3h.1M189.2 378.9h.1M191.6 377.3h.1M183.4 373.4h.1M169.1 371.5h.1M172.4 386.8h.1M169.7 378.9h.1M161.1 372.4h.1M162.5 379.1h.1M170.0 385.2h.1M175.5 377.8h.1M185.4 383.1h.1M166.6 374.6h.1M184.5 378.7h.1M189.6 382.9h.1M181.5 384.7h.1M185.9 378.9h.1M184.3 385.1h.1M191.0 384.0h.1M184.8 381.5h.1M185.4 388.0h.1M180.8 388.0h.1M186.9 373.8h.1M168.3 379.6h.1M189.9 381.2h.1M185.1 381.7h.1M189.1 378.2h.1M186.0 374.8h.1M186.4 370.1h.1M164.0 385.4h.1M176.4 377.1h.1M188.0 381.6h.1M168.8 383.2h.1M186.9 371.9h.1M187.1 376.3h.1M174.5 373.0h.1M186.7 377.1h.1M178.5 388.1h.1M167.8 379.5h.1M191.6 377.3h.1M170.7 371.0h.1M180.2 375.7h.1M181.7 370.5h.1M190.8 375.1h.1M172.5 377.1h.1M177.8 376.5h.1M186.7 381.8h.1M185.0 384.1h.1M165.0 378.1h.1M188.3 371.8h.1M163.4 375.3h.1M170.3 385.2h.1M173.8 385.9h.1M184.8 376.4h.1M184.2 376.3h.1M187.2 384.8h.1M179.0 387.5h.1M168.2 375.9h.1M174.6 387.2h.1M171.9 388.0h.1M175.5 373.2h.1M173.9 387.7h.1M191.1 376.6h.1M187.3 377.3h.1M175.6 378.3h.1M171.8 375.8h.1M170.8 383.4h.1M180.4 376.0h.1M167.6 370.7h.1M183.2 376.9h.1M173.2 381.3h.1M181.2 385.7h.1M183.3 377.5h.1M173.9 372.3h.1M178.7 381.7h.1M171.3 371.9h.1M187.3 381.4h.1M181.0 373.2h.1M187.0 371.0h.1M179.1 385.0h.1M187.9 381.2h.1M183.1 382.0h.1M164.5 380.0h.1M170.1 375.0h.1M175.2 383.6h.1M171.6 369.6h.1M169.1 371.6h.1M187.3 370.2h.1M168.4 382.2h.1M179.8 373.1h.1M187.7 384.5h.1M184.9 370.5h.1M163.7 379.8h.1M173.7 378.8h.1M189.9 385.0h.1M173.4 388.0h.1M165.4 376.5h.1M176.5 377.3h.1M170.6 372.1h.1M175.4 372.8h.1M169.3 377.0h.1M186.9 386.1h.1M184.4 371.3h.1M188.1 382.3h.1M170.5 370.2h.1M172.0 371.8h.1M189.3 384.6h.1M165.5 371.4h.1M186.9 378.0h.1M164.6 380.1h.1M171.4 369.4h.1M173.9 384.6h.1M188.9 372.5h.1M177.1 378.8h.1M186.6 381.5h.1M180.9 376.1h.1M187.1 383.5h.1M178.7 380.6h.1M177.8 386.6h.1M183.0 377.6h.1M178.5 378.7h.1M180.3 388.0h.1M178.8 382.4h.1M178.5 379.7h.1M181.2 385.7h.1M175.7 377.7h.1M179.0 376.3h.1M185.1 384.0h.1M183.7 382.7h.1M175.8 384.9h.1M179.4 377.8h.1M176.8 375.4h.1M178.1 381.4h.1M184.0 377.7h.1M182.4 382.3h.1M182.5 380.7h.1M175.2 386.0h.1M182.2 375.3h.1M179.9 379.7h.1M188.0 387.8h.1M180.3 379.8h.1M182.5 382.0h.1M182.2 379.7h.1M176.2 371.8h.1M174.9 373.3h.1M179.8 383.6h.1M185.8 381.9h.1M187.5 387.6h.1M179.4 378.2h.1M180.7 378.5h.1M178.3 380.8h.1M181.7 371.8h.1M180.2 380.8h.1M182.7 376.4h.1M181.8 376.2h.1M176.6 376.9h.1M180.4 379.3h.1M184.1 382.9h.1M179.1 385.4h.1M185.8 381.4h.1M186.5 382.3h.1M181.5 376.4h.1M183.6 385.5h.1M181.0 385.6h.1M187.4 387.1h.1M176.9 379.8h.1M184.7 385.1h.1M184.0 373.9h.1M182.7 383.6h.1M178.1 387.4h.1M182.9 385.9h.1M185.9 380.0h.1M181.4 381.1h.1M184.1 385.5h.1M176.5 377.8h.1M176.6 382.3h.1M176.1 376.8h.1M184.9 377.3h.1M182.2 371.5h.1M182.9 374.9h.1M185.2 382.3h.1M182.2 377.1h.1M181.6 379.0h.1M183.5 379.3h.1M179.3 377.7h.1M179.0 385.0h.1M179.3 382.8h.1M170.8 385.4h.1M175.4 372.4h.1M180.5 372.5h.1M185.8 380.7h.1M179.6 384.4h.1M179.4 381.5h.1M180.9 387.8h.1M182.7 379.1h.1M180.8 373.3h.1M184.8 375.9h.1M178.4 380.6h.1M181.4 377.5h.1M177.7 377.9h.1M171.2 378.3h.1M182.3 385.7h.1M177.4 376.5h.1M204.9 359.2h.1M205.6 344.7h.1M202.7 341.4h.1M205.8 348.8h.1M193.1 375.4h.1M173.4 341.0h.1M173.3 385.8h.1M191.4 368.3h.1" fill="none" stroke="#000" stroke-width="1.1" stroke-linecap="square"/>
<path d="M139.5 328.6H208.3V389H139.5Z" fill="none" stroke="#000" stroke-width="1.2"/>
<path d="M160.3 328.6V389M139.5 368.3H208.3" fill="none" stroke="#000" stroke-width="1.2"/>
<path d="M139.5 389v2.4M139.5 389.0h-2.4M144.7 389v1.2M139.5 384.5h-1.2M147.7 389v1.2M139.5 381.8h-1.2M149.9 389v1.2M139.5 379.9h-1.2M151.5 389v1.2M139.5 378.4h-1.2M152.9 389v1.2M139.5 377.2h-1.2M154.0 389v1.2M139.5 376.2h-1.2M155.0 389v1.2M139.5 375.4h-1.2M155.9 389v1.2M139.5 374.6h-1.2M156.7 389v2.4M139.5 373.9h-2.4M161.9 389v1.2M139.5 369.4h-1.2M164.9 389v1.2M139.5 366.7h-1.2M167.1 389v1.2M139.5 364.8h-1.2M168.7 389v1.2M139.5 363.3h-1.2M170.1 389v1.2M139.5 362.1h-1.2M171.2 389v1.2M139.5 361.1h-1.2M172.2 389v1.2M139.5 360.3h-1.2M173.1 389v1.2M139.5 359.5h-1.2M173.9 389v2.4M139.5 358.8h-2.4M179.1 389v1.2M139.5 354.3h-1.2M182.1 389v1.2M139.5 351.6h-1.2M184.3 389v1.2M139.5 349.7h-1.2M185.9 389v1.2M139.5 348.2h-1.2M187.3 389v1.2M139.5 347.0h-1.2M188.4 389v1.2M139.5 346.0h-1.2M189.4 389v1.2M139.5 345.2h-1.2M190.3 389v1.2M139.5 344.4h-1.2M191.1 389v2.4M139.5 343.7h-2.4M196.3 389v1.2M139.5 339.2h-1.2M199.3 389v1.2M139.5 336.5h-1.2M201.5 389v1.2M139.5 334.6h-1.2M203.1 389v1.2M139.5 333.1h-1.2M204.5 389v1.2M139.5 331.9h-1.2M205.6 389v1.2M139.5 330.9h-1.2M206.6 389v1.2M139.5 330.1h-1.2M207.5 389v1.2M139.5 329.3h-1.2M208.3 389v2.4M139.5 328.6h-2.4" fill="none" stroke="#000" stroke-width="0.9"/>
<text class="s" font-size="7" textLength="6" lengthAdjust="spacingAndGlyphs" x="135.8" y="400.4" style="stroke-width:.45px">10</text>
<text class="s" font-size="6" textLength="3.2" lengthAdjust="spacingAndGlyphs" x="142.1" y="397.4" style="stroke-width:.45px">0</text>
<text class="s" font-size="7" textLength="6" lengthAdjust="spacingAndGlyphs" transform="translate(135.2 388.9) rotate(-90)" style="stroke-width:.45px">10</text>
<text class="s" font-size="6" textLength="3.2" lengthAdjust="spacingAndGlyphs" transform="translate(131.7 382.6) rotate(-90)" style="stroke-width:.45px">0</text>
<text class="s" font-size="7" textLength="6" lengthAdjust="spacingAndGlyphs" x="152.7" y="400.4" style="stroke-width:.45px">10</text>
<text class="s" font-size="6" textLength="3.2" lengthAdjust="spacingAndGlyphs" x="159.0" y="397.4" style="stroke-width:.45px">1</text>
<text class="s" font-size="7" textLength="6" lengthAdjust="spacingAndGlyphs" transform="translate(135.2 375.5) rotate(-90)" style="stroke-width:.45px">10</text>
<text class="s" font-size="6" textLength="3.2" lengthAdjust="spacingAndGlyphs" transform="translate(131.7 369.2) rotate(-90)" style="stroke-width:.45px">1</text>
<text class="s" font-size="7" textLength="6" lengthAdjust="spacingAndGlyphs" x="169.5" y="400.4" style="stroke-width:.45px">10</text>
<text class="s" font-size="6" textLength="3.2" lengthAdjust="spacingAndGlyphs" x="175.8" y="397.4" style="stroke-width:.45px">2</text>
<text class="s" font-size="7" textLength="6" lengthAdjust="spacingAndGlyphs" transform="translate(135.2 362.1) rotate(-90)" style="stroke-width:.45px">10</text>
<text class="s" font-size="6" textLength="3.2" lengthAdjust="spacingAndGlyphs" transform="translate(131.7 355.8) rotate(-90)" style="stroke-width:.45px">2</text>
<text class="s" font-size="7" textLength="6" lengthAdjust="spacingAndGlyphs" x="186.4" y="400.4" style="stroke-width:.45px">10</text>
<text class="s" font-size="6" textLength="3.2" lengthAdjust="spacingAndGlyphs" x="192.7" y="397.4" style="stroke-width:.45px">3</text>
<text class="s" font-size="7" textLength="6" lengthAdjust="spacingAndGlyphs" transform="translate(135.2 348.7) rotate(-90)" style="stroke-width:.45px">10</text>
<text class="s" font-size="6" textLength="3.2" lengthAdjust="spacingAndGlyphs" transform="translate(131.7 342.4) rotate(-90)" style="stroke-width:.45px">3</text>
<text class="s" font-size="7" textLength="6" lengthAdjust="spacingAndGlyphs" x="203.2" y="400.4" style="stroke-width:.45px">10</text>
<text class="s" font-size="6" textLength="3.2" lengthAdjust="spacingAndGlyphs" x="209.5" y="397.4" style="stroke-width:.45px">4</text>
<text class="s" font-size="7" textLength="6" lengthAdjust="spacingAndGlyphs" transform="translate(135.2 335.3) rotate(-90)" style="stroke-width:.45px">10</text>
<text class="s" font-size="6" textLength="3.2" lengthAdjust="spacingAndGlyphs" transform="translate(131.7 329.0) rotate(-90)" style="stroke-width:.45px">4</text>
<text class="s" font-size="7.2" textLength="16" lengthAdjust="spacingAndGlyphs" x="164.9" y="407.9" style="stroke-width:.45px">FL1-H</text>
<text class="s" font-size="7.2" textLength="17.5" lengthAdjust="spacingAndGlyphs" transform="translate(125.9 369.3) rotate(-90)" style="stroke-width:.45px">FL2-H</text>
<text class="rb" font-size="12" textLength="10.9" lengthAdjust="spacingAndGlyphs" x="194.2" y="338.8">91</text>
<text class="r" font-size="17" text-anchor="middle" x="174.6" y="324.2" stroke="#000" stroke-width="0.6">ii</text>
<path d="M285.0 388.3L284.5 381.0L286.8 375.0L289.6 369.5L289.8 366.0L287.2 360.5L288.7 354.8L294.2 351.4L300.7 348.8L300.0 354.0L297.5 360.5L296.0 365.5L296.4 368.5L300.0 374.0L301.2 381.2L300.3 388.3Z" fill="#000" stroke="#000" stroke-width="0.8" stroke-linejoin="round"/>
<path d="M284.8 383.0h.1M283.9 386.7h.1M284.7 384.7h.1M283.8 382.7h.1M285.2 386.7h.1M284.9 381.0h.1M285.3 386.3h.1M285.1 382.6h.1M284.5 383.6h.1M286.7 387.0h.1M284.2 384.7h.1M285.0 386.7h.1M285.9 383.5h.1M284.7 385.2h.1M284.6 383.3h.1M285.2 384.8h.1M284.4 383.2h.1M286.3 376.9h.1M284.5 380.2h.1M284.5 377.4h.1M283.9 379.5h.1M285.8 379.7h.1M283.6 380.6h.1M285.3 381.0h.1M285.0 380.8h.1M285.4 380.6h.1M286.5 377.8h.1M284.9 381.8h.1M287.1 376.2h.1M287.9 377.0h.1M285.7 378.3h.1M286.6 376.1h.1M288.3 373.2h.1M289.6 371.3h.1M288.0 374.3h.1M289.4 374.5h.1M288.2 372.5h.1M288.5 371.4h.1M288.1 371.5h.1M286.4 373.7h.1M289.5 372.5h.1M289.4 368.3h.1M288.2 372.7h.1M286.1 372.8h.1M287.1 374.7h.1M288.3 373.0h.1M288.2 366.0h.1M289.6 368.0h.1M289.9 367.0h.1M290.5 367.4h.1M289.4 365.7h.1M290.6 369.4h.1M290.0 369.8h.1M289.1 368.8h.1M288.8 362.4h.1M289.4 365.1h.1M288.2 363.5h.1M288.2 362.5h.1M290.6 366.0h.1M290.0 365.9h.1M288.5 362.6h.1M289.7 365.6h.1M287.3 364.4h.1M289.3 360.9h.1M289.8 364.2h.1M290.0 365.5h.1M289.6 366.5h.1M287.8 360.1h.1M288.8 356.4h.1M287.8 356.7h.1M287.0 358.3h.1M289.9 354.8h.1M288.9 360.1h.1M288.5 358.3h.1M287.6 359.8h.1M287.9 357.3h.1M287.7 355.7h.1M288.2 356.6h.1M287.4 356.7h.1M289.0 358.5h.1M288.5 356.8h.1M288.8 355.8h.1M294.4 351.2h.1M292.0 353.2h.1M293.3 352.6h.1M289.9 354.3h.1M288.8 354.8h.1M287.6 353.6h.1M291.2 353.8h.1M291.5 354.1h.1M288.6 354.3h.1M292.0 353.2h.1M292.6 351.1h.1M293.1 352.3h.1M292.7 352.7h.1M292.0 351.1h.1M293.1 351.6h.1M293.1 351.1h.1M296.0 350.7h.1M295.3 350.9h.1M295.6 352.0h.1M301.0 348.9h.1M300.7 348.9h.1M295.7 350.4h.1M296.3 350.4h.1M294.9 351.5h.1M294.0 350.3h.1M296.2 349.5h.1M295.9 350.5h.1M300.0 348.9h.1M294.9 350.3h.1M299.0 350.9h.1M300.2 349.9h.1M300.2 348.5h.1M300.2 353.2h.1M299.9 352.1h.1M300.3 349.6h.1M300.3 352.7h.1M299.2 350.8h.1M300.6 348.4h.1M299.8 349.4h.1M300.7 351.7h.1M300.2 349.9h.1M300.8 350.9h.1M299.7 351.2h.1M297.8 359.8h.1M299.2 359.0h.1M300.6 354.9h.1M301.0 354.3h.1M299.0 357.4h.1M298.0 357.2h.1M296.9 358.4h.1M300.4 355.0h.1M298.8 358.3h.1M299.1 356.2h.1M298.3 357.9h.1M300.5 356.1h.1M299.1 358.5h.1M298.4 358.3h.1M297.9 360.2h.1M298.4 356.6h.1M297.4 359.6h.1M297.5 363.1h.1M297.6 360.9h.1M297.1 361.5h.1M297.7 361.2h.1M296.9 362.8h.1M297.3 360.6h.1M297.4 362.6h.1M296.5 365.7h.1M297.7 363.2h.1M297.8 362.6h.1M295.9 362.2h.1M296.6 368.1h.1M297.5 369.2h.1M296.1 367.1h.1M296.6 366.9h.1M296.1 368.5h.1M296.0 368.1h.1M296.8 365.4h.1M299.7 371.7h.1M300.1 370.7h.1M298.4 369.2h.1M296.9 370.5h.1M297.4 370.7h.1M297.9 369.3h.1M299.6 371.2h.1M298.5 369.2h.1M299.8 372.7h.1M299.3 374.1h.1M298.0 370.3h.1M297.6 372.7h.1M298.5 369.2h.1M300.7 374.7h.1M298.6 371.6h.1M300.7 373.7h.1M299.8 378.4h.1M301.3 379.3h.1M300.4 376.8h.1M301.7 376.6h.1M300.5 375.8h.1M301.2 380.1h.1M301.1 375.1h.1M299.3 375.1h.1M301.6 376.7h.1M301.1 375.5h.1M298.9 374.0h.1M299.8 377.8h.1M300.8 379.9h.1M299.2 378.0h.1M302.0 380.2h.1M299.4 373.8h.1M300.3 386.4h.1M301.3 383.7h.1M301.1 385.0h.1M300.8 386.9h.1M299.6 387.0h.1M301.0 386.0h.1M300.3 384.4h.1M300.2 382.3h.1M301.8 387.4h.1M299.1 387.1h.1M301.8 382.0h.1M301.0 386.1h.1M300.4 386.8h.1M302.0 383.8h.1M298.6 387.0h.1M301.4 386.0h.1M299.6 387.4h.1M296.2 387.5h.1M292.1 387.2h.1M299.6 387.2h.1M288.9 387.2h.1M292.9 387.0h.1M286.8 387.2h.1M289.3 387.1h.1M289.2 387.2h.1M287.9 387.2h.1M293.8 387.2h.1M287.9 386.6h.1M291.6 386.3h.1M295.2 387.5h.1M297.7 387.6h.1M290.7 386.9h.1M297.4 387.2h.1M295.0 387.2h.1M291.1 387.0h.1M293.7 387.2h.1M296.9 387.4h.1M298.8 387.6h.1M284.9 386.7h.1M293.1 386.7h.1M295.2 387.3h.1M293.0 387.1h.1M288.5 387.3h.1M285.6 387.5h.1M294.7 386.7h.1M289.5 386.8h.1M295.5 387.2h.1M291.0 387.4h.1M285.1 387.3h.1M298.7 386.9h.1M288.7 386.8h.1M292.2 387.1h.1M286.1 387.2h.1M286.3 374.8h.1M281.4 372.8h.1M279.6 367.0h.1M282.0 362.8h.1M279.4 376.6h.1M278.1 381.4h.1M287.1 376.4h.1M285.0 386.3h.1M281.8 356.2h.1M282.4 353.2h.1M283.9 387.2h.1M285.2 374.7h.1M277.8 371.2h.1M280.1 387.4h.1M283.0 359.1h.1M285.0 358.0h.1M282.0 378.7h.1M282.8 352.9h.1M284.3 366.8h.1M282.6 365.0h.1M287.5 372.2h.1M283.0 376.6h.1M287.4 370.1h.1M280.1 375.1h.1M283.7 385.9h.1M283.2 363.3h.1M287.4 378.5h.1M287.2 378.0h.1M281.0 375.3h.1M282.7 361.0h.1M288.2 380.4h.1M282.4 384.0h.1M287.3 353.8h.1M280.8 354.4h.1M284.8 359.1h.1M278.0 368.6h.1M282.7 362.9h.1M286.2 386.8h.1M284.0 379.6h.1M280.9 386.2h.1M285.1 356.1h.1M287.8 370.5h.1M284.0 366.8h.1M278.2 382.3h.1M281.8 366.8h.1M281.0 386.0h.1M286.4 356.5h.1M281.7 356.6h.1M286.2 359.9h.1M288.7 373.4h.1M284.6 369.9h.1M278.6 383.4h.1M283.4 360.0h.1M288.4 386.4h.1M283.4 366.5h.1M282.1 370.2h.1M282.6 378.9h.1M289.5 363.9h.1M279.5 372.3h.1M283.7 362.7h.1M277.5 360.6h.1M285.8 378.2h.1M284.9 370.0h.1M280.1 375.9h.1M279.8 387.1h.1M282.6 358.6h.1M285.3 373.7h.1M287.9 376.0h.1M287.5 362.5h.1M280.0 383.4h.1M280.8 383.2h.1M279.1 383.5h.1M287.5 365.6h.1M287.4 386.7h.1M279.0 357.6h.1M288.9 386.7h.1M284.0 355.7h.1M280.9 384.9h.1M277.2 355.6h.1M277.6 369.0h.1M281.9 371.1h.1M281.7 359.0h.1M287.0 360.6h.1M281.3 362.7h.1M283.2 382.2h.1M287.3 373.7h.1M279.1 364.0h.1M279.3 362.2h.1M279.4 357.6h.1M286.5 377.4h.1M287.1 376.1h.1M277.4 370.2h.1M284.6 377.5h.1M284.1 366.7h.1M279.6 366.1h.1M284.2 387.5h.1M283.1 360.1h.1M282.9 357.3h.1M288.9 385.7h.1M281.8 357.2h.1M287.6 361.1h.1M281.7 356.3h.1M282.1 375.5h.1M277.7 377.0h.1M279.2 352.2h.1M279.8 377.9h.1M280.0 387.2h.1M278.9 376.8h.1M278.6 382.8h.1M281.5 375.9h.1M281.8 383.3h.1M287.9 379.1h.1M288.9 374.4h.1M278.3 370.3h.1M280.5 369.5h.1M279.0 369.6h.1M283.5 357.7h.1M285.7 375.9h.1M278.8 385.2h.1M279.7 364.1h.1M276.5 360.1h.1M280.6 362.3h.1M278.8 361.3h.1M277.7 362.8h.1M279.8 358.1h.1M280.4 363.9h.1M278.1 356.7h.1M277.8 356.9h.1M279.9 360.5h.1M279.6 360.2h.1M282.6 359.0h.1M277.2 354.2h.1M280.5 358.1h.1M279.5 360.7h.1M281.0 355.9h.1M277.9 359.9h.1M279.7 362.5h.1M278.9 354.7h.1M282.6 355.8h.1M277.9 360.6h.1M277.7 365.7h.1M280.5 361.0h.1M279.0 365.0h.1M281.2 358.0h.1M282.8 355.6h.1M278.7 360.4h.1M280.3 357.4h.1M283.5 363.2h.1M277.9 360.6h.1M278.6 358.7h.1M282.2 360.0h.1M279.8 359.9h.1M277.4 362.6h.1M278.3 362.8h.1M279.0 358.6h.1M283.3 360.2h.1M278.6 358.4h.1M281.3 364.2h.1M281.4 358.8h.1M277.5 358.1h.1M292.5 342.7h.1M290.4 347.7h.1M289.2 339.2h.1M295.0 343.2h.1M291.4 346.1h.1M287.4 350.0h.1M301.7 348.1h.1M293.5 350.1h.1M293.2 347.3h.1M292.2 342.5h.1M295.1 333.3h.1M292.2 349.3h.1M281.3 345.8h.1M296.7 342.1h.1M293.8 347.4h.1M294.3 332.9h.1M289.2 341.0h.1M293.6 339.4h.1M292.6 348.9h.1M281.3 349.2h.1M296.7 343.3h.1M293.1 341.8h.1M294.5 342.2h.1M290.1 345.6h.1M289.7 342.1h.1M291.6 336.7h.1M295.4 340.6h.1M288.3 342.2h.1M287.5 349.1h.1M295.1 349.8h.1M290.7 345.1h.1M289.1 338.6h.1M292.6 343.4h.1M296.7 339.5h.1M297.4 344.8h.1M289.5 341.5h.1M289.3 349.8h.1M290.8 345.9h.1M296.6 339.6h.1M291.1 343.5h.1M289.9 336.6h.1M289.1 343.9h.1M293.8 349.1h.1M285.7 345.3h.1M288.4 347.6h.1M295.8 341.4h.1M298.9 338.5h.1M290.9 337.4h.1M290.4 342.6h.1M295.7 346.5h.1M291.9 338.5h.1M291.7 339.9h.1M291.1 340.2h.1M289.5 342.1h.1M291.0 341.2h.1M287.5 343.4h.1M295.3 343.8h.1M290.8 337.0h.1M287.8 337.5h.1M290.4 340.7h.1M258.2 384.9h.1M259.8 379.9h.1M264.2 375.3h.1M270.4 386.8h.1M269.2 375.4h.1M265.6 380.9h.1M270.7 378.9h.1M251.1 374.7h.1M253.1 380.3h.1M271.0 386.1h.1M269.1 377.1h.1M268.0 378.4h.1M262.5 382.1h.1M265.6 379.4h.1M254.0 387.0h.1M267.9 376.5h.1M255.8 376.8h.1M262.9 381.3h.1M266.0 386.8h.1M257.1 383.4h.1M262.5 375.6h.1M261.7 386.5h.1M258.4 385.8h.1M263.0 381.7h.1M256.6 380.1h.1M254.3 385.2h.1M263.9 374.9h.1M268.2 383.4h.1M260.2 383.2h.1M251.6 379.7h.1M254.4 386.5h.1M254.4 383.1h.1M259.9 380.1h.1M250.5 387.3h.1M266.2 381.8h.1M267.1 377.6h.1M261.8 383.9h.1M251.2 382.5h.1M263.7 385.4h.1M269.2 375.1h.1M254.8 375.3h.1M255.4 381.7h.1M265.9 375.7h.1M256.7 373.9h.1M273.5 377.3h.1M258.4 387.6h.1M250.5 387.2h.1M260.2 383.8h.1M254.7 379.0h.1M263.3 382.2h.1M255.7 381.5h.1M258.3 386.3h.1M264.4 381.9h.1M252.5 376.6h.1M253.7 381.8h.1M249.9 381.4h.1M257.0 375.1h.1M265.7 377.8h.1M254.7 385.2h.1M250.1 384.6h.1M258.2 381.3h.1M262.5 378.0h.1M260.4 377.0h.1M262.9 386.7h.1M257.2 375.8h.1M267.6 377.5h.1M255.0 376.0h.1M270.7 386.6h.1M257.1 375.2h.1M256.6 381.9h.1M269.8 377.0h.1M251.2 380.1h.1M250.4 376.5h.1M251.5 376.7h.1M268.1 380.6h.1M268.4 374.2h.1M269.1 378.6h.1M251.7 373.6h.1M265.2 377.9h.1M258.9 377.5h.1M257.6 383.9h.1M261.8 378.0h.1M260.4 384.8h.1M271.7 377.6h.1M271.7 386.9h.1M264.9 376.8h.1M269.6 382.8h.1M253.4 377.2h.1M261.4 384.8h.1M251.4 379.4h.1M251.9 376.4h.1M258.8 377.7h.1M263.2 379.1h.1M255.8 386.9h.1M272.2 379.9h.1M268.1 383.3h.1M269.6 376.6h.1M257.5 377.3h.1M268.9 383.9h.1M262.3 377.4h.1M253.7 386.0h.1M257.0 386.6h.1M257.8 374.6h.1M250.3 386.1h.1M271.1 377.4h.1M251.2 383.4h.1M256.4 377.8h.1M273.1 387.1h.1M251.0 382.5h.1M262.8 386.4h.1M256.4 381.1h.1M261.7 383.9h.1M269.5 385.0h.1M271.1 379.7h.1M264.6 385.9h.1M269.6 385.3h.1M267.8 379.3h.1M266.9 375.5h.1M251.9 375.9h.1M269.2 387.5h.1M264.5 376.3h.1M252.8 380.5h.1M257.4 387.5h.1M267.2 383.1h.1M260.1 378.6h.1M257.8 382.5h.1M257.7 374.4h.1M258.5 383.2h.1M278.4 386.9h.1M263.0 386.1h.1M268.1 386.5h.1M253.6 386.9h.1M254.5 386.4h.1M276.1 385.3h.1M259.7 387.2h.1M258.2 387.1h.1M275.7 387.4h.1M281.9 386.7h.1M283.4 385.7h.1M274.5 386.9h.1M271.4 386.1h.1M250.5 386.2h.1M276.5 385.1h.1M258.2 386.9h.1M267.8 387.4h.1M282.7 387.4h.1M267.2 386.9h.1M256.1 386.2h.1M249.9 386.2h.1M255.2 387.5h.1M281.5 385.8h.1M254.4 385.9h.1M254.0 387.5h.1M278.0 386.8h.1M278.2 386.1h.1M278.1 385.2h.1M271.8 387.6h.1M278.2 386.9h.1M273.0 387.5h.1M258.9 387.3h.1M280.1 385.7h.1M254.2 387.2h.1M253.4 385.9h.1M277.9 386.1h.1M280.4 386.1h.1M253.3 387.3h.1M272.3 387.1h.1M251.1 386.9h.1M273.8 387.4h.1M254.3 386.7h.1M261.9 377.9h.1M260.9 382.2h.1M264.8 376.8h.1M259.1 380.4h.1M268.3 376.6h.1M258.3 381.2h.1M263.5 378.2h.1M261.9 381.4h.1M256.9 379.9h.1M263.8 382.7h.1M265.4 379.8h.1M257.8 383.9h.1M264.3 378.2h.1M265.0 383.0h.1M261.6 373.2h.1M260.6 377.8h.1M259.5 379.8h.1M258.8 381.1h.1M267.6 376.6h.1M265.1 378.5h.1M263.6 379.6h.1M265.8 378.0h.1M264.2 377.8h.1M262.7 380.0h.1M265.2 375.5h.1M258.0 384.0h.1M263.1 384.9h.1M259.0 380.6h.1M263.8 385.1h.1M261.8 378.7h.1M264.1 379.7h.1M259.8 382.2h.1M256.4 377.1h.1M266.0 378.6h.1M261.1 381.1h.1M265.3 381.5h.1M259.2 378.4h.1M265.1 379.7h.1M260.1 382.5h.1M265.4 386.3h.1M258.8 378.0h.1M260.0 381.0h.1M260.6 383.2h.1M254.1 382.8h.1M260.1 379.2h.1M263.7 380.6h.1M259.0 384.3h.1M263.7 378.6h.1M262.6 376.8h.1M258.4 379.1h.1M263.1 380.3h.1M259.7 376.0h.1M257.1 384.6h.1M263.1 377.7h.1M265.5 381.6h.1M260.8 378.2h.1M265.3 380.9h.1M266.8 381.0h.1M260.3 378.3h.1M259.9 380.7h.1M274.7 372.3h.1M281.1 375.0h.1M279.2 376.8h.1M282.3 381.8h.1M273.4 377.9h.1M273.3 376.7h.1M280.8 377.0h.1M274.6 384.4h.1M279.8 384.6h.1M284.0 370.0h.1M278.7 376.1h.1M272.9 383.6h.1M278.0 370.0h.1M277.6 371.5h.1M279.6 382.0h.1M278.7 373.4h.1M280.4 374.4h.1M273.0 375.0h.1M275.3 384.3h.1M273.8 372.9h.1M276.0 385.6h.1M280.3 382.2h.1M284.3 387.3h.1M273.9 374.5h.1M272.2 385.2h.1M282.9 375.4h.1M276.7 372.8h.1M278.5 379.2h.1M280.0 384.9h.1M280.6 380.2h.1M273.3 385.7h.1M284.6 386.3h.1M303.6 381.1h.1M304.2 362.8h.1M301.3 370.1h.1M304.2 381.8h.1M299.7 381.6h.1M304.4 383.1h.1M304.7 371.8h.1M304.1 373.4h.1M302.6 369.0h.1M303.7 366.1h.1M301.4 357.5h.1M304.2 374.5h.1M303.7 359.9h.1M304.7 366.6h.1M300.5 383.5h.1M301.3 386.7h.1M304.3 366.2h.1M300.1 363.9h.1M305.7 381.8h.1M303.9 355.2h.1M302.9 367.6h.1M304.2 368.9h.1M304.0 355.9h.1M302.6 382.5h.1M301.4 378.0h.1M306.9 375.6h.1M301.5 380.8h.1M300.8 372.9h.1M302.9 380.7h.1M305.2 371.6h.1M306.1 378.5h.1M302.8 361.5h.1M307.1 366.5h.1M304.1 369.0h.1M302.8 356.1h.1M303.3 369.0h.1M304.9 365.5h.1M301.2 360.7h.1M303.4 372.2h.1M304.6 366.7h.1M304.3 371.2h.1M306.0 369.5h.1M303.7 374.9h.1M305.3 362.0h.1M302.8 367.6h.1M300.4 381.3h.1M305.1 370.2h.1M308.4 381.0h.1M306.4 383.6h.1M304.8 357.7h.1M275.2 371.9h.1M280.0 361.9h.1M309.9 357.6h.1M291.9 368.9h.1M295.3 362.1h.1M274.6 352.6h.1M291.7 336.6h.1M309.9 371.1h.1M286.5 374.3h.1M298.6 376.5h.1M308.0 377.6h.1M282.5 339.8h.1M299.9 376.3h.1" fill="none" stroke="#000" stroke-width="1.1" stroke-linecap="square"/>
<path d="M247.7 328.6H316.7V388.5H247.7Z" fill="none" stroke="#000" stroke-width="1.2"/>
<path d="M272.8 328.6V388.5M247.7 366.3H316.7" fill="none" stroke="#000" stroke-width="1.2"/>
<path d="M247.7 388.5v2.4M247.7 388.5h-2.4M252.9 388.5v1.2M247.7 384.0h-1.2M255.9 388.5v1.2M247.7 381.4h-1.2M258.1 388.5v1.2M247.7 379.5h-1.2M259.8 388.5v1.2M247.7 378.0h-1.2M261.1 388.5v1.2M247.7 376.8h-1.2M262.3 388.5v1.2M247.7 375.8h-1.2M263.3 388.5v1.2M247.7 375.0h-1.2M264.2 388.5v1.2M247.7 374.2h-1.2M264.9 388.5v2.4M247.7 373.5h-2.4M270.1 388.5v1.2M247.7 369.0h-1.2M273.2 388.5v1.2M247.7 366.4h-1.2M275.3 388.5v1.2M247.7 364.5h-1.2M277.0 388.5v1.2M247.7 363.1h-1.2M278.4 388.5v1.2M247.7 361.9h-1.2M279.5 388.5v1.2M247.7 360.9h-1.2M280.5 388.5v1.2M247.7 360.0h-1.2M281.4 388.5v1.2M247.7 359.2h-1.2M282.2 388.5v2.4M247.7 358.6h-2.4M287.4 388.5v1.2M247.7 354.0h-1.2M290.4 388.5v1.2M247.7 351.4h-1.2M292.6 388.5v1.2M247.7 349.5h-1.2M294.3 388.5v1.2M247.7 348.1h-1.2M295.6 388.5v1.2M247.7 346.9h-1.2M296.8 388.5v1.2M247.7 345.9h-1.2M297.8 388.5v1.2M247.7 345.0h-1.2M298.7 388.5v1.2M247.7 344.3h-1.2M299.4 388.5v2.4M247.7 343.6h-2.4M304.6 388.5v1.2M247.7 339.1h-1.2M307.7 388.5v1.2M247.7 336.4h-1.2M309.8 388.5v1.2M247.7 334.6h-1.2M311.5 388.5v1.2M247.7 333.1h-1.2M312.9 388.5v1.2M247.7 331.9h-1.2M314.0 388.5v1.2M247.7 330.9h-1.2M315.0 388.5v1.2M247.7 330.1h-1.2M315.9 388.5v1.2M247.7 329.3h-1.2M316.7 388.5v2.4M247.7 328.6h-2.4" fill="none" stroke="#000" stroke-width="0.9"/>
<text class="s" font-size="7" textLength="6" lengthAdjust="spacingAndGlyphs" x="244.0" y="399.9" style="stroke-width:.45px">10</text>
<text class="s" font-size="6" textLength="3.2" lengthAdjust="spacingAndGlyphs" x="250.3" y="396.9" style="stroke-width:.45px">0</text>
<text class="s" font-size="7" textLength="6" lengthAdjust="spacingAndGlyphs" transform="translate(243.4 388.4) rotate(-90)" style="stroke-width:.45px">10</text>
<text class="s" font-size="6" textLength="3.2" lengthAdjust="spacingAndGlyphs" transform="translate(239.9 382.1) rotate(-90)" style="stroke-width:.45px">0</text>
<text class="s" font-size="7" textLength="6" lengthAdjust="spacingAndGlyphs" x="260.9" y="399.9" style="stroke-width:.45px">10</text>
<text class="s" font-size="6" textLength="3.2" lengthAdjust="spacingAndGlyphs" x="267.2" y="396.9" style="stroke-width:.45px">1</text>
<text class="s" font-size="7" textLength="6" lengthAdjust="spacingAndGlyphs" transform="translate(243.4 375.0) rotate(-90)" style="stroke-width:.45px">10</text>
<text class="s" font-size="6" textLength="3.2" lengthAdjust="spacingAndGlyphs" transform="translate(239.9 368.7) rotate(-90)" style="stroke-width:.45px">1</text>
<text class="s" font-size="7" textLength="6" lengthAdjust="spacingAndGlyphs" x="277.8" y="399.9" style="stroke-width:.45px">10</text>
<text class="s" font-size="6" textLength="3.2" lengthAdjust="spacingAndGlyphs" x="284.1" y="396.9" style="stroke-width:.45px">2</text>
<text class="s" font-size="7" textLength="6" lengthAdjust="spacingAndGlyphs" transform="translate(243.4 361.6) rotate(-90)" style="stroke-width:.45px">10</text>
<text class="s" font-size="6" textLength="3.2" lengthAdjust="spacingAndGlyphs" transform="translate(239.9 355.3) rotate(-90)" style="stroke-width:.45px">2</text>
<text class="s" font-size="7" textLength="6" lengthAdjust="spacingAndGlyphs" x="294.7" y="399.9" style="stroke-width:.45px">10</text>
<text class="s" font-size="6" textLength="3.2" lengthAdjust="spacingAndGlyphs" x="301.0" y="396.9" style="stroke-width:.45px">3</text>
<text class="s" font-size="7" textLength="6" lengthAdjust="spacingAndGlyphs" transform="translate(243.4 348.2) rotate(-90)" style="stroke-width:.45px">10</text>
<text class="s" font-size="6" textLength="3.2" lengthAdjust="spacingAndGlyphs" transform="translate(239.9 341.9) rotate(-90)" style="stroke-width:.45px">3</text>
<text class="s" font-size="7" textLength="6" lengthAdjust="spacingAndGlyphs" x="311.6" y="399.9" style="stroke-width:.45px">10</text>
<text class="s" font-size="6" textLength="3.2" lengthAdjust="spacingAndGlyphs" x="317.9" y="396.9" style="stroke-width:.45px">4</text>
<text class="s" font-size="7" textLength="6" lengthAdjust="spacingAndGlyphs" transform="translate(243.4 334.8) rotate(-90)" style="stroke-width:.45px">10</text>
<text class="s" font-size="6" textLength="3.2" lengthAdjust="spacingAndGlyphs" transform="translate(239.9 328.5) rotate(-90)" style="stroke-width:.45px">4</text>
<text class="s" font-size="7.2" textLength="16" lengthAdjust="spacingAndGlyphs" x="273.2" y="407.4" style="stroke-width:.45px">FL1-H</text>
<text class="s" font-size="7.2" textLength="17.5" lengthAdjust="spacingAndGlyphs" transform="translate(234.1 369.1) rotate(-90)" style="stroke-width:.45px">FL4-H</text>
<text class="rb" font-size="12" textLength="11.9" lengthAdjust="spacingAndGlyphs" x="301.6" y="338.8">32</text>
<text class="r" font-size="17" text-anchor="middle" x="286.7" y="324.2" stroke="#000" stroke-width="0.6">iii</text>
<path d="M377.8 358.9L378.6 354.0L383.6 349.8L391.0 348.1L392.5 352.3L391.0 358.9L388.8 363.0L387.3 366.0L383.2 366.0L380.5 364.0L378.6 362.2Z" fill="#000" stroke="#000" stroke-width="0.8" stroke-linejoin="round"/>
<path d="M381.5 369.0L388.6 369.0L391.5 374.6L391.7 384.5L389.4 388.3L381.1 388.3L379.5 381.2L379.5 373.0Z" fill="#000" stroke="#000" stroke-width="0.8" stroke-linejoin="round"/>
<path d="M383.3 365.0L387.2 365.0L387.6 369.0L382.8 369.0Z" fill="#000" stroke="#000" stroke-width="0.8" stroke-linejoin="round"/>
<path d="M378.3 354.1h.1M377.8 356.3h.1M378.5 354.0h.1M377.4 358.6h.1M376.8 357.8h.1M377.8 357.3h.1M379.2 354.1h.1M378.9 356.4h.1M377.9 355.3h.1M378.5 359.4h.1M377.6 359.0h.1M382.5 350.2h.1M381.3 352.8h.1M379.3 354.1h.1M383.4 350.6h.1M379.4 354.1h.1M380.6 351.6h.1M379.9 352.8h.1M381.6 351.0h.1M380.8 352.8h.1M381.6 351.5h.1M379.8 353.0h.1M381.2 351.3h.1M379.9 353.7h.1M382.0 351.1h.1M381.9 351.1h.1M385.9 350.7h.1M387.4 349.4h.1M385.6 350.0h.1M389.7 347.3h.1M389.9 348.0h.1M384.2 350.2h.1M387.9 348.0h.1M386.9 351.2h.1M389.1 348.7h.1M390.8 349.6h.1M384.1 349.0h.1M390.1 348.6h.1M385.8 347.5h.1M388.1 348.2h.1M387.5 350.5h.1M383.4 349.3h.1M383.4 350.2h.1M386.0 350.3h.1M391.5 350.8h.1M392.7 352.1h.1M390.5 349.0h.1M391.6 348.9h.1M393.1 350.4h.1M390.9 348.6h.1M392.0 350.2h.1M392.1 348.4h.1M390.6 347.3h.1M392.2 350.7h.1M392.3 354.7h.1M392.4 355.5h.1M391.0 355.7h.1M391.9 357.9h.1M392.2 357.2h.1M390.1 357.1h.1M392.1 356.5h.1M392.8 352.5h.1M391.6 354.9h.1M391.8 355.7h.1M391.0 358.5h.1M391.1 356.6h.1M392.8 355.7h.1M392.1 354.7h.1M390.8 354.3h.1M390.5 359.0h.1M390.9 359.6h.1M389.4 361.6h.1M389.3 361.9h.1M391.5 361.1h.1M391.3 358.2h.1M389.0 361.0h.1M391.2 362.1h.1M391.5 360.2h.1M390.0 360.4h.1M389.1 362.8h.1M390.6 359.4h.1M388.1 364.2h.1M389.0 363.9h.1M387.6 364.3h.1M387.6 364.8h.1M388.2 363.1h.1M386.6 366.6h.1M386.9 365.3h.1M385.7 365.1h.1M388.2 365.3h.1M385.5 365.7h.1M385.6 364.6h.1M386.9 366.0h.1M387.3 366.2h.1M384.7 366.5h.1M386.9 366.8h.1M383.1 365.7h.1M385.5 365.6h.1M381.7 363.7h.1M381.3 364.5h.1M382.8 365.9h.1M381.5 362.4h.1M382.6 365.7h.1M383.3 365.8h.1M381.9 364.5h.1M381.2 366.0h.1M379.0 361.9h.1M379.6 363.4h.1M379.3 362.8h.1M379.9 361.4h.1M378.5 362.6h.1M379.8 361.4h.1M379.2 361.9h.1M378.0 360.8h.1M377.1 360.8h.1M378.2 361.6h.1M376.6 358.3h.1M377.4 361.7h.1M378.1 358.8h.1M379.2 361.0h.1M388.3 369.2h.1M388.1 370.0h.1M382.5 368.2h.1M388.6 368.6h.1M388.1 369.1h.1M388.2 369.7h.1M385.7 370.2h.1M387.5 369.9h.1M381.8 368.3h.1M384.8 370.2h.1M385.9 369.3h.1M389.2 368.6h.1M381.3 368.8h.1M386.0 367.7h.1M383.0 368.5h.1M383.0 368.9h.1M384.9 368.8h.1M390.8 374.3h.1M389.1 370.9h.1M389.6 369.7h.1M388.9 371.1h.1M391.4 373.5h.1M388.6 368.0h.1M390.4 371.1h.1M387.5 369.2h.1M390.2 370.7h.1M389.0 370.4h.1M391.2 375.1h.1M390.4 372.3h.1M390.0 374.1h.1M390.0 370.7h.1M390.2 371.4h.1M391.3 381.4h.1M390.6 375.1h.1M390.5 379.5h.1M391.2 380.9h.1M390.1 378.7h.1M391.1 384.2h.1M390.7 375.9h.1M390.5 374.4h.1M392.3 378.2h.1M392.0 380.7h.1M391.8 378.0h.1M390.3 377.8h.1M392.6 380.4h.1M391.7 374.7h.1M392.5 379.0h.1M392.1 382.3h.1M392.3 378.5h.1M391.1 380.6h.1M392.2 382.3h.1M392.2 377.2h.1M391.2 375.9h.1M392.7 383.4h.1M390.8 378.3h.1M392.4 386.1h.1M389.5 386.8h.1M392.8 385.3h.1M389.7 386.6h.1M391.9 385.1h.1M391.3 385.2h.1M393.1 384.5h.1M390.6 387.6h.1M391.2 383.6h.1M390.0 387.1h.1M390.5 387.1h.1M382.0 387.3h.1M382.8 387.5h.1M390.2 387.5h.1M383.3 387.4h.1M381.5 386.6h.1M382.5 387.4h.1M387.2 387.2h.1M381.9 387.4h.1M389.2 387.1h.1M382.3 387.4h.1M385.5 386.9h.1M384.1 386.7h.1M382.3 387.3h.1M385.7 387.3h.1M388.4 387.5h.1M388.7 387.1h.1M384.6 386.6h.1M382.2 387.5h.1M379.7 384.7h.1M381.6 386.4h.1M379.9 382.2h.1M380.9 384.9h.1M378.6 384.7h.1M379.5 383.4h.1M379.8 382.7h.1M379.6 381.0h.1M381.1 387.0h.1M381.8 387.5h.1M381.0 386.8h.1M381.4 386.9h.1M380.4 387.3h.1M380.5 385.9h.1M379.7 381.5h.1M381.3 387.1h.1M380.8 386.4h.1M380.1 374.5h.1M380.0 377.0h.1M379.0 375.2h.1M379.3 376.3h.1M380.3 379.8h.1M380.6 374.4h.1M379.2 380.2h.1M380.1 372.9h.1M380.0 377.8h.1M379.2 376.0h.1M380.6 378.9h.1M379.9 380.1h.1M378.9 375.3h.1M379.5 373.7h.1M379.8 377.3h.1M380.1 380.3h.1M379.3 373.7h.1M378.7 378.9h.1M380.3 381.5h.1M381.8 371.2h.1M379.2 371.5h.1M380.9 371.4h.1M379.0 370.9h.1M381.6 368.1h.1M379.7 368.7h.1M381.5 368.6h.1M380.1 370.9h.1M381.3 371.0h.1M379.4 371.6h.1M388.9 364.8h.1M386.3 366.1h.1M386.0 364.7h.1M385.5 365.1h.1M385.2 365.3h.1M385.6 365.2h.1M384.5 365.7h.1M385.1 365.3h.1M381.5 364.3h.1M386.9 366.7h.1M386.2 368.0h.1M387.5 365.4h.1M386.8 366.9h.1M386.7 369.2h.1M387.0 368.1h.1M387.4 368.5h.1M386.6 368.6h.1M387.2 364.5h.1M384.2 370.6h.1M385.6 370.6h.1M386.4 369.9h.1M383.3 369.3h.1M384.5 369.4h.1M383.5 367.7h.1M387.6 368.6h.1M382.1 369.3h.1M385.3 369.4h.1M385.6 369.1h.1M382.1 368.3h.1M382.0 368.5h.1M382.7 370.3h.1M382.1 366.0h.1M384.2 365.3h.1M383.1 368.5h.1M383.5 368.7h.1M382.3 366.9h.1M382.7 367.5h.1M383.8 366.2h.1M378.0 366.2h.1M371.3 353.4h.1M369.7 358.7h.1M370.2 353.8h.1M374.9 357.4h.1M367.5 361.5h.1M371.4 367.0h.1M365.0 354.8h.1M371.4 362.3h.1M371.5 352.8h.1M369.7 363.2h.1M371.7 360.4h.1M376.8 352.1h.1M371.3 365.6h.1M367.5 352.9h.1M379.0 352.3h.1M369.5 355.3h.1M374.2 364.0h.1M364.8 359.4h.1M372.5 355.0h.1M366.9 355.3h.1M373.8 356.7h.1M369.5 359.2h.1M372.6 360.0h.1M367.7 361.2h.1M370.6 355.3h.1M371.4 361.6h.1M372.4 361.1h.1M372.0 358.9h.1M376.8 365.5h.1M375.7 362.4h.1M373.0 355.6h.1M374.7 360.6h.1M374.8 359.4h.1M376.2 358.5h.1M371.5 365.1h.1M369.4 353.9h.1M371.7 364.6h.1M365.2 361.0h.1M370.2 353.1h.1M374.8 354.1h.1M371.9 352.1h.1M376.5 360.6h.1M371.3 363.8h.1M376.8 361.9h.1M371.2 364.0h.1M367.6 360.9h.1M369.2 358.9h.1M373.8 364.3h.1M377.5 359.1h.1M368.3 364.4h.1M371.6 364.7h.1M373.2 362.1h.1M371.1 362.6h.1M372.5 361.5h.1M377.8 354.9h.1M368.2 357.5h.1M365.7 361.1h.1M374.6 360.7h.1M368.3 355.3h.1M371.2 362.0h.1M377.6 364.2h.1M376.8 354.6h.1M373.1 364.3h.1M372.9 362.0h.1M372.7 358.0h.1M372.3 358.3h.1M366.4 355.9h.1M360.2 374.6h.1M356.1 385.2h.1M352.3 378.9h.1M345.5 377.6h.1M355.1 373.4h.1M375.3 386.1h.1M364.3 376.4h.1M361.7 384.8h.1M340.5 382.4h.1M344.6 369.0h.1M359.4 386.7h.1M343.3 378.6h.1M370.7 385.8h.1M375.2 381.8h.1M371.3 380.0h.1M355.0 373.2h.1M352.4 387.5h.1M354.4 369.3h.1M354.4 384.8h.1M358.5 377.0h.1M361.3 378.0h.1M359.9 384.1h.1M376.8 370.5h.1M365.6 372.0h.1M368.8 377.2h.1M361.4 373.4h.1M345.1 380.3h.1M341.0 383.3h.1M351.9 377.8h.1M350.3 382.2h.1M350.6 376.6h.1M366.2 376.8h.1M347.2 373.0h.1M354.0 386.9h.1M347.4 369.7h.1M350.1 383.3h.1M363.7 381.3h.1M353.9 386.9h.1M345.0 382.8h.1M355.1 378.9h.1M343.4 381.6h.1M379.4 384.8h.1M343.9 370.3h.1M363.4 380.8h.1M346.5 379.5h.1M374.7 378.9h.1M363.3 372.9h.1M365.4 379.5h.1M359.8 377.8h.1M348.3 373.4h.1M366.5 369.4h.1M357.5 370.7h.1M354.8 379.7h.1M341.8 385.2h.1M353.6 371.0h.1M354.7 379.8h.1M342.9 383.8h.1M342.4 369.7h.1M363.6 386.8h.1M341.9 384.8h.1M355.8 369.2h.1M367.2 370.2h.1M367.6 386.7h.1M356.9 384.4h.1M366.0 371.8h.1M377.8 373.4h.1M371.9 384.3h.1M369.3 380.6h.1M341.8 368.4h.1M373.5 369.3h.1M345.6 382.2h.1M364.8 378.7h.1M360.2 378.0h.1M346.8 381.1h.1M362.0 375.3h.1M361.9 385.1h.1M367.5 384.4h.1M346.5 374.6h.1M358.7 373.3h.1M355.4 372.6h.1M354.6 381.2h.1M375.1 373.0h.1M349.0 369.8h.1M374.1 378.6h.1M359.7 373.5h.1M357.5 372.4h.1M361.8 381.6h.1M351.1 381.4h.1M364.7 373.1h.1M371.1 369.7h.1M357.2 384.8h.1M369.4 372.9h.1M358.7 378.1h.1M372.1 373.0h.1M378.7 375.3h.1M379.0 372.4h.1M347.6 383.1h.1M353.7 369.9h.1M370.9 377.4h.1M348.5 385.6h.1M360.7 372.0h.1M347.7 381.8h.1M364.4 385.6h.1M360.4 382.2h.1M356.0 382.2h.1M353.8 383.2h.1M361.2 383.3h.1M360.2 383.5h.1M350.8 380.5h.1M348.5 387.5h.1M368.8 373.3h.1M377.4 381.4h.1M359.3 383.5h.1M365.5 367.6h.1M353.9 380.6h.1M343.7 386.5h.1M368.6 376.3h.1M377.3 386.5h.1M365.3 376.0h.1M350.3 371.6h.1M366.2 381.7h.1M363.8 369.1h.1M349.5 377.7h.1M372.9 367.0h.1M374.9 372.7h.1M356.7 386.6h.1M345.2 368.6h.1M373.8 372.6h.1M347.8 383.3h.1M344.2 383.4h.1M367.9 375.4h.1M369.6 379.8h.1M360.1 368.6h.1M347.2 387.0h.1M368.2 373.5h.1M365.2 375.6h.1M376.5 374.6h.1M365.5 385.1h.1M376.7 382.4h.1M345.5 378.3h.1M365.8 369.4h.1M362.9 376.3h.1M363.2 386.6h.1M349.3 368.4h.1M347.4 374.1h.1M378.1 386.7h.1M351.2 378.1h.1M359.3 382.1h.1M353.9 370.1h.1M373.1 386.1h.1M372.5 382.8h.1M344.8 368.7h.1M376.2 383.2h.1M364.8 369.6h.1M350.3 379.5h.1M364.7 381.6h.1M373.3 383.5h.1M358.9 382.9h.1M361.8 372.3h.1M374.4 383.5h.1M362.0 379.9h.1M365.4 385.5h.1M366.8 371.3h.1M353.5 381.2h.1M368.2 373.3h.1M348.0 380.3h.1M374.1 384.6h.1M371.0 377.2h.1M370.1 385.0h.1M348.3 375.4h.1M353.4 371.6h.1M365.8 377.7h.1M354.3 367.1h.1M374.2 375.4h.1M345.8 386.3h.1M340.5 375.0h.1M348.9 381.1h.1M369.4 383.6h.1M349.8 368.7h.1M349.7 370.6h.1M352.2 386.8h.1M356.9 385.1h.1M361.5 384.2h.1M343.1 382.4h.1M349.0 375.5h.1M367.7 370.8h.1M358.9 371.6h.1M368.4 372.3h.1M368.5 366.4h.1M353.4 376.5h.1M365.8 377.2h.1M341.5 379.4h.1M355.3 374.0h.1M374.9 376.7h.1M360.8 381.9h.1M346.3 386.3h.1M353.2 369.8h.1M374.9 380.0h.1M370.9 370.6h.1M365.0 372.6h.1M368.6 382.5h.1M370.6 380.6h.1M369.6 367.4h.1M342.8 374.6h.1M344.1 377.7h.1M374.5 387.3h.1M345.2 373.2h.1M377.6 378.9h.1M365.8 368.1h.1M346.7 384.7h.1M361.5 378.6h.1M367.7 376.7h.1M355.8 387.2h.1M345.5 378.6h.1M343.5 380.9h.1M367.8 381.2h.1M360.6 375.4h.1M356.0 387.1h.1M369.6 383.3h.1M367.9 371.9h.1M347.3 372.8h.1M343.8 386.9h.1M378.3 378.3h.1M359.7 385.5h.1M365.9 383.9h.1M360.6 379.5h.1M362.5 386.8h.1M376.5 381.8h.1M359.5 370.9h.1M346.3 387.5h.1M363.7 385.0h.1M357.2 372.5h.1M371.9 368.2h.1M360.1 378.5h.1M355.7 386.8h.1M362.7 370.8h.1M368.9 385.4h.1M361.5 370.7h.1M347.5 387.2h.1M357.0 368.8h.1M349.4 380.7h.1M367.1 379.7h.1M340.5 374.9h.1M379.8 373.3h.1M369.3 377.8h.1M346.6 372.6h.1M359.2 386.7h.1M359.9 368.9h.1M348.0 385.7h.1M359.6 387.3h.1M371.2 374.6h.1M350.3 373.8h.1M368.4 385.4h.1M343.0 378.2h.1M349.8 382.5h.1M353.4 368.6h.1M359.6 387.1h.1M349.7 370.9h.1M359.8 383.3h.1M367.5 387.3h.1M344.6 383.7h.1M365.3 386.5h.1M377.8 384.5h.1M378.1 368.2h.1M364.8 385.9h.1M365.1 373.2h.1M357.4 370.2h.1M349.7 384.4h.1M371.0 377.1h.1M355.2 383.0h.1M369.5 372.4h.1M372.1 374.5h.1M348.4 383.3h.1M353.5 376.4h.1M356.5 376.0h.1M351.3 381.4h.1M346.0 377.2h.1M351.5 379.2h.1M346.6 373.9h.1M350.3 374.7h.1M352.6 377.5h.1M352.7 378.5h.1M346.3 376.6h.1M352.9 382.2h.1M353.4 378.0h.1M362.1 376.3h.1M358.6 380.2h.1M345.8 377.8h.1M355.9 373.8h.1M359.1 376.1h.1M354.1 377.1h.1M353.9 375.2h.1M359.8 375.0h.1M360.2 376.8h.1M347.3 380.7h.1M352.4 376.8h.1M345.7 376.9h.1M351.1 374.9h.1M345.6 374.5h.1M346.4 381.6h.1M355.9 376.1h.1M346.3 377.3h.1M354.1 375.6h.1M350.9 381.4h.1M350.3 376.3h.1M357.9 377.4h.1M351.4 374.4h.1M356.9 378.6h.1M350.0 377.3h.1M358.6 377.4h.1M350.8 378.2h.1M352.1 381.2h.1M350.2 376.3h.1M348.0 378.3h.1M345.0 375.9h.1M343.7 377.3h.1M350.5 377.0h.1M348.8 374.6h.1M352.7 369.8h.1M346.2 383.5h.1M352.9 383.0h.1M361.3 378.2h.1M346.8 379.3h.1M347.2 378.1h.1M353.0 383.3h.1M350.8 377.2h.1M350.5 386.0h.1M351.1 380.9h.1M347.7 376.4h.1M365.5 374.8h.1M354.5 379.8h.1M354.6 381.3h.1M350.4 383.1h.1M353.4 377.1h.1M354.4 378.3h.1M351.0 379.7h.1M347.7 379.4h.1M350.1 369.0h.1M357.2 377.5h.1M350.3 376.5h.1M344.0 373.4h.1M354.1 376.7h.1M357.4 384.5h.1M349.2 372.4h.1M358.3 380.0h.1M360.1 378.8h.1M353.2 375.0h.1M360.1 378.1h.1M359.0 377.9h.1M349.0 380.3h.1M357.0 369.5h.1M349.7 379.9h.1M357.3 377.9h.1M348.0 379.1h.1M349.8 368.2h.1M342.4 379.3h.1M347.8 380.1h.1M356.3 369.2h.1M352.3 372.5h.1M357.2 371.1h.1M357.9 376.8h.1M351.5 378.3h.1M347.4 377.4h.1M367.8 378.0h.1M347.9 385.6h.1M356.7 378.3h.1M353.6 372.9h.1M349.3 374.4h.1M359.9 381.6h.1M352.4 374.0h.1M343.7 375.6h.1M346.3 378.1h.1M343.9 378.6h.1M351.6 374.9h.1M352.8 374.6h.1M349.8 375.0h.1M361.6 373.1h.1M352.8 374.6h.1M348.8 381.0h.1M351.0 377.4h.1M341.0 375.7h.1M361.7 380.9h.1M350.7 372.5h.1M352.1 374.3h.1M359.2 382.6h.1M357.7 374.1h.1M353.2 382.0h.1M347.3 377.7h.1M346.5 378.3h.1M359.0 377.4h.1M362.8 376.9h.1M355.0 351.3h.1M353.2 350.8h.1M352.7 349.6h.1M353.7 351.2h.1M353.0 351.1h.1M352.8 350.1h.1M355.0 350.1h.1M356.3 350.2h.1M352.8 349.9h.1M355.2 348.6h.1M352.0 351.7h.1M353.0 350.9h.1M389.4 341.0h.1M385.5 344.9h.1M386.3 346.1h.1M388.6 342.6h.1M393.3 343.1h.1M384.0 341.9h.1M386.4 348.4h.1M390.1 341.4h.1M385.9 343.5h.1M388.0 349.4h.1M386.0 341.0h.1M386.8 342.0h.1M390.8 343.6h.1M386.3 342.6h.1M385.4 342.8h.1M387.6 348.4h.1M384.8 347.3h.1M388.0 340.6h.1M393.7 344.6h.1M384.3 342.2h.1M386.5 340.0h.1M388.3 343.3h.1M396.5 369.6h.1M391.8 382.8h.1M396.1 364.6h.1M396.6 372.8h.1M392.8 378.2h.1M394.9 367.8h.1M395.2 365.6h.1M394.5 374.5h.1M395.4 376.4h.1M391.0 368.1h.1M395.1 378.6h.1M393.0 381.2h.1M393.1 382.6h.1M394.8 374.2h.1M392.4 365.1h.1M394.8 374.1h.1M394.2 369.1h.1M396.6 365.8h.1M395.3 379.8h.1M395.1 373.3h.1M392.7 386.8h.1M396.6 363.9h.1M393.2 362.9h.1M392.3 371.1h.1M393.0 372.2h.1M395.2 365.5h.1M392.6 379.6h.1M395.8 370.1h.1M393.1 375.7h.1M394.8 380.2h.1M394.7 366.4h.1M393.3 373.0h.1M392.2 364.7h.1M395.8 378.9h.1M395.3 384.0h.1M394.0 366.3h.1M394.7 379.6h.1M393.0 387.6h.1M396.4 360.7h.1M393.2 378.2h.1M354.3 364.7h.1M366.9 353.1h.1M372.5 346.7h.1M393.0 375.6h.1M358.4 371.1h.1M387.7 366.4h.1M377.2 378.4h.1M385.7 364.7h.1M404.6 383.1h.1M379.5 363.7h.1M393.6 355.9h.1M379.1 345.2h.1M350.6 381.5h.1M389.2 371.7h.1M362.4 351.8h.1M351.8 368.4h.1" fill="none" stroke="#000" stroke-width="1.1" stroke-linecap="square"/>
<path d="M339 328.6H407.4V388.5H339Z" fill="none" stroke="#000" stroke-width="1.2"/>
<path d="M364.6 328.6V388.5M339 366.3H407.4" fill="none" stroke="#000" stroke-width="1.2"/>
<path d="M339.0 388.5v2.4M339 388.5h-2.4M344.1 388.5v1.2M339 384.0h-1.2M347.2 388.5v1.2M339 381.4h-1.2M349.3 388.5v1.2M339 379.5h-1.2M351.0 388.5v1.2M339 378.0h-1.2M352.3 388.5v1.2M339 376.8h-1.2M353.5 388.5v1.2M339 375.8h-1.2M354.4 388.5v1.2M339 375.0h-1.2M355.3 388.5v1.2M339 374.2h-1.2M356.1 388.5v2.4M339 373.5h-2.4M361.2 388.5v1.2M339 369.0h-1.2M364.3 388.5v1.2M339 366.4h-1.2M366.4 388.5v1.2M339 364.5h-1.2M368.1 388.5v1.2M339 363.1h-1.2M369.4 388.5v1.2M339 361.9h-1.2M370.6 388.5v1.2M339 360.9h-1.2M371.5 388.5v1.2M339 360.0h-1.2M372.4 388.5v1.2M339 359.2h-1.2M373.2 388.5v2.4M339 358.6h-2.4M378.3 388.5v1.2M339 354.0h-1.2M381.4 388.5v1.2M339 351.4h-1.2M383.5 388.5v1.2M339 349.5h-1.2M385.2 388.5v1.2M339 348.1h-1.2M386.5 388.5v1.2M339 346.9h-1.2M387.7 388.5v1.2M339 345.9h-1.2M388.6 388.5v1.2M339 345.0h-1.2M389.5 388.5v1.2M339 344.3h-1.2M390.3 388.5v2.4M339 343.6h-2.4M395.4 388.5v1.2M339 339.1h-1.2M398.5 388.5v1.2M339 336.4h-1.2M400.6 388.5v1.2M339 334.6h-1.2M402.3 388.5v1.2M339 333.1h-1.2M403.6 388.5v1.2M339 331.9h-1.2M404.8 388.5v1.2M339 330.9h-1.2M405.7 388.5v1.2M339 330.1h-1.2M406.6 388.5v1.2M339 329.3h-1.2M407.4 388.5v2.4M339 328.6h-2.4" fill="none" stroke="#000" stroke-width="0.9"/>
<text class="s" font-size="7" textLength="6" lengthAdjust="spacingAndGlyphs" x="335.3" y="399.9" style="stroke-width:.45px">10</text>
<text class="s" font-size="6" textLength="3.2" lengthAdjust="spacingAndGlyphs" x="341.6" y="396.9" style="stroke-width:.45px">0</text>
<text class="s" font-size="7" textLength="6" lengthAdjust="spacingAndGlyphs" transform="translate(334.7 388.4) rotate(-90)" style="stroke-width:.45px">10</text>
<text class="s" font-size="6" textLength="3.2" lengthAdjust="spacingAndGlyphs" transform="translate(331.2 382.1) rotate(-90)" style="stroke-width:.45px">0</text>
<text class="s" font-size="7" textLength="6" lengthAdjust="spacingAndGlyphs" x="352.1" y="399.9" style="stroke-width:.45px">10</text>
<text class="s" font-size="6" textLength="3.2" lengthAdjust="spacingAndGlyphs" x="358.4" y="396.9" style="stroke-width:.45px">1</text>
<text class="s" font-size="7" textLength="6" lengthAdjust="spacingAndGlyphs" transform="translate(334.7 375.0) rotate(-90)" style="stroke-width:.45px">10</text>
<text class="s" font-size="6" textLength="3.2" lengthAdjust="spacingAndGlyphs" transform="translate(331.2 368.7) rotate(-90)" style="stroke-width:.45px">1</text>
<text class="s" font-size="7" textLength="6" lengthAdjust="spacingAndGlyphs" x="368.8" y="399.9" style="stroke-width:.45px">10</text>
<text class="s" font-size="6" textLength="3.2" lengthAdjust="spacingAndGlyphs" x="375.1" y="396.9" style="stroke-width:.45px">2</text>
<text class="s" font-size="7" textLength="6" lengthAdjust="spacingAndGlyphs" transform="translate(334.7 361.6) rotate(-90)" style="stroke-width:.45px">10</text>
<text class="s" font-size="6" textLength="3.2" lengthAdjust="spacingAndGlyphs" transform="translate(331.2 355.3) rotate(-90)" style="stroke-width:.45px">2</text>
<text class="s" font-size="7" textLength="6" lengthAdjust="spacingAndGlyphs" x="385.6" y="399.9" style="stroke-width:.45px">10</text>
<text class="s" font-size="6" textLength="3.2" lengthAdjust="spacingAndGlyphs" x="391.9" y="396.9" style="stroke-width:.45px">3</text>
<text class="s" font-size="7" textLength="6" lengthAdjust="spacingAndGlyphs" transform="translate(334.7 348.2) rotate(-90)" style="stroke-width:.45px">10</text>
<text class="s" font-size="6" textLength="3.2" lengthAdjust="spacingAndGlyphs" transform="translate(331.2 341.9) rotate(-90)" style="stroke-width:.45px">3</text>
<text class="s" font-size="7" textLength="6" lengthAdjust="spacingAndGlyphs" x="402.3" y="399.9" style="stroke-width:.45px">10</text>
<text class="s" font-size="6" textLength="3.2" lengthAdjust="spacingAndGlyphs" x="408.6" y="396.9" style="stroke-width:.45px">4</text>
<text class="s" font-size="7" textLength="6" lengthAdjust="spacingAndGlyphs" transform="translate(334.7 334.8) rotate(-90)" style="stroke-width:.45px">10</text>
<text class="s" font-size="6" textLength="3.2" lengthAdjust="spacingAndGlyphs" transform="translate(331.2 328.5) rotate(-90)" style="stroke-width:.45px">4</text>
<text class="s" font-size="7.2" textLength="16" lengthAdjust="spacingAndGlyphs" x="364.2" y="407.4" style="stroke-width:.45px">FL1-H</text>
<text class="s" font-size="7.2" textLength="17.5" lengthAdjust="spacingAndGlyphs" transform="translate(325.4 369.1) rotate(-90)" style="stroke-width:.45px">FL4-H</text>
<text class="rb" font-size="12" textLength="10.9" lengthAdjust="spacingAndGlyphs" x="394.5" y="338.8">72</text>
<text class="r" font-size="17" text-anchor="middle" x="375.7" y="324.2" stroke="#000" stroke-width="0.6">iv</text>
<path d="M468.6 388.4L468.3 381.0L469.6 377.0L472.0 374.2L476.0 372.6L480.0 373.8L482.2 377.0L483.0 382.0L482.8 388.4Z" fill="#000" stroke="#000" stroke-width="0.8" stroke-linejoin="round"/>
<path d="M469.6 387.1h.1M467.3 387.4h.1M468.1 383.4h.1M468.0 387.5h.1M469.1 385.2h.1M468.8 386.9h.1M467.9 382.2h.1M466.4 383.2h.1M470.1 383.7h.1M468.1 384.5h.1M469.5 383.7h.1M468.5 383.1h.1M468.2 387.0h.1M466.2 383.4h.1M468.0 383.2h.1M467.3 384.3h.1M468.3 381.9h.1M468.7 377.3h.1M469.7 376.8h.1M470.6 379.0h.1M469.5 378.6h.1M468.5 380.1h.1M467.8 380.0h.1M469.0 378.7h.1M467.6 377.3h.1M469.4 376.5h.1M468.6 381.9h.1M469.5 376.1h.1M471.2 374.6h.1M470.5 375.2h.1M472.9 373.8h.1M470.0 376.6h.1M469.6 376.3h.1M471.2 374.5h.1M472.9 374.4h.1M476.2 371.8h.1M476.4 372.4h.1M471.5 374.9h.1M473.9 374.3h.1M472.2 374.0h.1M475.3 374.7h.1M471.7 373.2h.1M472.1 373.2h.1M474.8 374.0h.1M474.9 372.5h.1M477.5 372.8h.1M477.1 373.1h.1M477.1 373.5h.1M477.6 373.9h.1M477.4 373.4h.1M479.3 374.1h.1M475.9 373.5h.1M477.6 373.4h.1M479.8 373.7h.1M476.4 372.4h.1M482.2 376.8h.1M481.4 377.5h.1M481.8 376.2h.1M480.7 373.7h.1M481.9 376.8h.1M482.3 377.3h.1M481.5 375.8h.1M480.6 376.2h.1M482.7 377.1h.1M482.5 377.4h.1M483.3 380.1h.1M481.6 380.0h.1M483.0 382.9h.1M482.7 382.6h.1M483.4 378.3h.1M484.0 381.0h.1M481.5 379.1h.1M481.5 381.8h.1M482.0 378.0h.1M482.3 378.1h.1M482.1 379.3h.1M481.7 386.8h.1M482.9 382.7h.1M483.2 382.7h.1M482.1 386.6h.1M483.8 385.9h.1M481.0 387.6h.1M482.7 387.5h.1M483.1 385.1h.1M482.3 386.8h.1M482.4 385.1h.1M481.7 387.0h.1M482.9 387.7h.1M483.3 387.0h.1M482.9 384.7h.1M482.7 384.6h.1M482.3 387.6h.1M472.1 387.2h.1M476.7 387.5h.1M477.2 387.2h.1M476.7 387.5h.1M481.4 387.0h.1M478.8 387.0h.1M478.3 387.4h.1M482.1 387.6h.1M474.2 387.2h.1M474.4 386.8h.1M482.4 387.1h.1M474.3 387.7h.1M477.8 387.5h.1M470.2 387.1h.1M473.7 386.9h.1M472.4 387.1h.1M477.9 386.8h.1M480.0 386.7h.1M473.3 387.0h.1M482.1 386.9h.1M471.8 387.6h.1M482.5 387.4h.1M477.3 387.5h.1M475.3 387.0h.1M476.9 387.1h.1M471.0 386.8h.1M478.3 386.9h.1M479.2 387.4h.1M475.7 387.5h.1M481.4 387.0h.1M476.0 387.6h.1M480.4 387.2h.1M478.6 387.4h.1M463.6 384.9h.1M444.0 385.8h.1M454.1 373.3h.1M436.5 379.2h.1M450.1 378.5h.1M443.1 383.5h.1M442.7 382.0h.1M445.8 384.6h.1M440.1 387.3h.1M450.2 378.0h.1M455.7 385.0h.1M436.1 384.5h.1M442.1 384.5h.1M466.9 383.1h.1M459.1 378.8h.1M455.9 380.1h.1M463.1 385.0h.1M460.3 374.7h.1M452.2 377.6h.1M448.7 375.8h.1M449.3 380.3h.1M432.9 386.8h.1M449.3 383.4h.1M455.7 387.0h.1M435.8 378.3h.1M461.0 376.0h.1M459.0 373.3h.1M453.1 383.3h.1M450.1 379.0h.1M439.5 382.2h.1M432.4 379.1h.1M449.3 383.4h.1M433.3 385.0h.1M452.9 385.9h.1M459.6 387.7h.1M445.3 382.8h.1M464.6 380.5h.1M436.4 387.1h.1M436.6 375.3h.1M447.6 375.2h.1M458.0 376.3h.1M432.7 383.3h.1M462.0 382.1h.1M442.0 373.4h.1M452.6 381.8h.1M447.2 375.4h.1M463.7 387.1h.1M448.4 382.0h.1M441.2 387.6h.1M461.7 376.5h.1M446.8 382.4h.1M466.0 387.1h.1M445.4 383.6h.1M467.5 384.6h.1M434.4 378.6h.1M439.8 380.7h.1M436.2 381.9h.1M447.7 379.6h.1M447.7 386.8h.1M454.6 377.9h.1M461.7 380.5h.1M457.7 380.2h.1M458.1 381.5h.1M434.3 375.5h.1M465.2 380.7h.1M445.1 379.5h.1M450.3 384.0h.1M449.2 384.4h.1M448.4 387.0h.1M450.0 374.5h.1M440.7 386.4h.1M442.2 382.1h.1M462.3 382.2h.1M452.1 384.7h.1M438.9 383.9h.1M457.7 378.8h.1M454.1 384.5h.1M434.8 386.9h.1M455.9 375.6h.1M445.7 382.2h.1M440.8 386.9h.1M465.0 387.0h.1M441.2 381.4h.1M453.8 379.0h.1M451.2 377.2h.1M446.1 377.7h.1M449.7 377.0h.1M462.3 385.1h.1M433.2 374.8h.1M445.5 385.3h.1M447.1 375.3h.1M459.8 385.1h.1M439.1 375.0h.1M452.2 379.7h.1M460.6 381.7h.1M438.3 378.3h.1M461.4 373.7h.1M461.5 380.1h.1M441.0 386.8h.1M462.7 387.7h.1M462.0 378.6h.1M451.4 382.5h.1M455.2 374.4h.1M446.4 375.5h.1M435.0 383.6h.1M441.7 383.7h.1M451.8 377.4h.1M442.7 382.4h.1M437.0 380.8h.1M454.4 381.8h.1M461.4 374.0h.1M452.3 385.3h.1M437.4 379.0h.1M465.1 380.9h.1M431.0 379.5h.1M458.8 375.6h.1M437.0 380.6h.1M467.2 375.9h.1M456.9 382.1h.1M433.1 382.3h.1M445.9 387.1h.1M453.1 377.6h.1M442.4 375.2h.1M444.4 375.1h.1M452.1 383.2h.1M462.1 386.5h.1M446.4 387.1h.1M436.5 387.1h.1M467.8 383.6h.1M466.1 386.8h.1M463.7 378.1h.1M451.7 387.3h.1M438.6 377.3h.1M463.5 384.9h.1M433.2 373.4h.1M467.6 377.5h.1M445.9 385.4h.1M442.6 376.2h.1M438.6 382.6h.1M463.7 379.2h.1M448.2 382.5h.1M463.1 385.5h.1M466.0 378.9h.1M460.5 377.4h.1M451.6 387.0h.1M447.0 387.0h.1M452.9 387.0h.1M465.5 387.3h.1M454.8 382.9h.1M445.4 384.6h.1M436.0 382.5h.1M440.4 380.6h.1M449.9 382.4h.1M460.4 381.2h.1M439.4 377.4h.1M433.0 379.6h.1M458.5 379.6h.1M461.5 384.4h.1M441.0 385.0h.1M433.8 387.1h.1M464.6 375.3h.1M457.4 384.8h.1M435.8 377.0h.1M455.0 387.0h.1M463.7 382.4h.1M433.8 376.8h.1M450.9 385.5h.1M446.7 381.0h.1M446.8 377.9h.1M464.2 380.6h.1M448.7 379.7h.1M465.2 378.4h.1M461.1 382.3h.1M446.3 380.3h.1M450.5 382.9h.1M457.6 377.0h.1M447.8 384.2h.1M454.9 375.0h.1M464.6 384.1h.1M436.8 382.1h.1M434.6 376.2h.1M446.2 386.6h.1M439.3 386.1h.1M442.1 379.6h.1M465.2 381.7h.1M452.2 385.1h.1M464.3 383.6h.1M453.0 380.2h.1M462.8 384.4h.1M462.9 375.5h.1M465.5 384.9h.1M448.8 380.5h.1M467.9 387.3h.1M453.7 387.7h.1M459.7 379.2h.1M438.1 378.0h.1M465.2 386.9h.1M457.7 384.1h.1M436.1 378.2h.1M455.9 379.4h.1M460.3 386.4h.1M449.8 385.0h.1M450.1 382.3h.1M457.5 383.8h.1M452.5 385.7h.1M460.4 385.0h.1M457.6 387.2h.1M466.1 385.2h.1M437.9 386.7h.1M445.4 386.2h.1M455.8 384.9h.1M461.3 385.9h.1M467.0 386.9h.1M453.0 385.8h.1M461.6 387.4h.1M446.9 386.0h.1M459.4 385.7h.1M460.4 385.8h.1M450.7 387.7h.1M459.6 386.5h.1M457.4 386.2h.1M445.8 387.4h.1M456.4 385.4h.1M449.9 387.6h.1M441.7 387.0h.1M447.2 385.4h.1M444.3 384.7h.1M466.7 386.2h.1M458.3 386.0h.1M439.1 385.7h.1M449.9 384.5h.1M456.3 387.4h.1M436.2 384.3h.1M439.0 387.7h.1M452.1 387.0h.1M458.1 386.1h.1M437.9 386.1h.1M451.4 386.7h.1M457.0 385.7h.1M434.1 385.9h.1M447.6 386.1h.1M462.9 384.9h.1M437.3 386.7h.1M464.9 387.0h.1M461.4 384.2h.1M458.7 384.6h.1M452.2 385.7h.1M441.3 387.1h.1M444.5 385.2h.1M440.1 386.9h.1M462.1 387.5h.1M465.3 387.3h.1M455.4 384.6h.1M452.7 387.1h.1M467.4 385.4h.1M460.7 384.4h.1M436.5 386.3h.1M442.3 387.1h.1M444.4 387.5h.1M449.5 387.2h.1M457.0 384.3h.1M456.3 384.8h.1M440.5 384.3h.1M443.5 386.0h.1M451.4 385.2h.1M455.5 383.9h.1M452.6 384.9h.1M456.4 386.2h.1M449.3 386.5h.1M451.9 387.3h.1M444.9 387.0h.1M450.8 385.3h.1M481.3 371.4h.1M478.6 370.2h.1M475.6 369.1h.1M477.9 369.1h.1M479.1 369.1h.1M472.5 368.4h.1M479.0 370.4h.1M476.0 366.9h.1M475.6 367.2h.1M478.1 370.6h.1M475.1 369.5h.1M476.1 368.8h.1M473.8 369.0h.1M479.9 372.7h.1M472.5 367.8h.1M473.0 368.3h.1M476.8 369.1h.1M474.5 370.2h.1M473.5 368.6h.1M477.9 369.0h.1M475.2 372.8h.1M475.4 367.9h.1M472.6 371.2h.1M478.9 371.4h.1M476.8 372.2h.1M479.9 363.0h.1M474.4 357.2h.1M477.6 367.4h.1M475.0 354.2h.1M475.2 351.7h.1M474.1 365.6h.1M472.6 359.4h.1M476.8 351.6h.1M474.1 363.3h.1M472.8 353.6h.1M473.8 364.1h.1M475.3 357.3h.1M474.0 363.7h.1M483.4 356.5h.1M488.1 382.3h.1M486.3 384.1h.1M486.9 385.5h.1M490.2 381.6h.1M482.9 386.9h.1M485.2 380.5h.1M486.7 380.1h.1M486.4 381.7h.1M487.2 379.2h.1M484.4 381.8h.1M482.5 382.5h.1M480.8 378.1h.1M481.7 380.1h.1M487.5 386.9h.1M482.5 377.1h.1M484.5 385.8h.1M486.0 379.2h.1M483.1 387.6h.1M484.3 378.3h.1M488.5 382.7h.1M484.4 383.5h.1M484.8 383.4h.1M487.2 376.0h.1M488.1 380.7h.1M486.5 385.6h.1M495.6 360.3h.1M442.0 367.6h.1M487.5 372.3h.1M464.9 369.8h.1M454.6 374.5h.1M486.1 377.0h.1M437.0 364.0h.1M443.3 368.5h.1M440.6 378.4h.1" fill="none" stroke="#000" stroke-width="1.1" stroke-linecap="square"/>
<path d="M429.5 328.6H497.7V388.6H429.5Z" fill="none" stroke="#000" stroke-width="1.2"/>
<path d="M455 328.6V388.6M429.5 366.3H497.7" fill="none" stroke="#000" stroke-width="1.2"/>
<path d="M429.5 388.6v2.4M429.5 388.6h-2.4M434.6 388.6v1.2M429.5 384.1h-1.2M437.6 388.6v1.2M429.5 381.4h-1.2M439.8 388.6v1.2M429.5 379.6h-1.2M441.4 388.6v1.2M429.5 378.1h-1.2M442.8 388.6v1.2M429.5 376.9h-1.2M443.9 388.6v1.2M429.5 375.9h-1.2M444.9 388.6v1.2M429.5 375.1h-1.2M445.8 388.6v1.2M429.5 374.3h-1.2M446.6 388.6v2.4M429.5 373.6h-2.4M451.7 388.6v1.2M429.5 369.1h-1.2M454.7 388.6v1.2M429.5 366.4h-1.2M456.8 388.6v1.2M429.5 364.6h-1.2M458.5 388.6v1.2M429.5 363.1h-1.2M459.8 388.6v1.2M429.5 361.9h-1.2M461.0 388.6v1.2M429.5 360.9h-1.2M461.9 388.6v1.2M429.5 360.1h-1.2M462.8 388.6v1.2M429.5 359.3h-1.2M463.6 388.6v2.4M429.5 358.6h-2.4M468.7 388.6v1.2M429.5 354.1h-1.2M471.7 388.6v1.2M429.5 351.4h-1.2M473.9 388.6v1.2M429.5 349.6h-1.2M475.5 388.6v1.2M429.5 348.1h-1.2M476.9 388.6v1.2M429.5 346.9h-1.2M478.0 388.6v1.2M429.5 345.9h-1.2M479.0 388.6v1.2M429.5 345.1h-1.2M479.9 388.6v1.2M429.5 344.3h-1.2M480.6 388.6v2.4M429.5 343.6h-2.4M485.8 388.6v1.2M429.5 339.1h-1.2M488.8 388.6v1.2M429.5 336.4h-1.2M490.9 388.6v1.2M429.5 334.6h-1.2M492.6 388.6v1.2M429.5 333.1h-1.2M493.9 388.6v1.2M429.5 331.9h-1.2M495.1 388.6v1.2M429.5 330.9h-1.2M496.0 388.6v1.2M429.5 330.1h-1.2M496.9 388.6v1.2M429.5 329.3h-1.2M497.7 388.6v2.4M429.5 328.6h-2.4" fill="none" stroke="#000" stroke-width="0.9"/>
<text class="s" font-size="7" textLength="6" lengthAdjust="spacingAndGlyphs" x="425.8" y="400.0" style="stroke-width:.45px">10</text>
<text class="s" font-size="6" textLength="3.2" lengthAdjust="spacingAndGlyphs" x="432.1" y="397.0" style="stroke-width:.45px">0</text>
<text class="s" font-size="7" textLength="6" lengthAdjust="spacingAndGlyphs" transform="translate(425.2 388.5) rotate(-90)" style="stroke-width:.45px">10</text>
<text class="s" font-size="6" textLength="3.2" lengthAdjust="spacingAndGlyphs" transform="translate(421.7 382.2) rotate(-90)" style="stroke-width:.45px">0</text>
<text class="s" font-size="7" textLength="6" lengthAdjust="spacingAndGlyphs" x="442.5" y="400.0" style="stroke-width:.45px">10</text>
<text class="s" font-size="6" textLength="3.2" lengthAdjust="spacingAndGlyphs" x="448.8" y="397.0" style="stroke-width:.45px">1</text>
<text class="s" font-size="7" textLength="6" lengthAdjust="spacingAndGlyphs" transform="translate(425.2 375.1) rotate(-90)" style="stroke-width:.45px">10</text>
<text class="s" font-size="6" textLength="3.2" lengthAdjust="spacingAndGlyphs" transform="translate(421.7 368.8) rotate(-90)" style="stroke-width:.45px">1</text>
<text class="s" font-size="7" textLength="6" lengthAdjust="spacingAndGlyphs" x="459.2" y="400.0" style="stroke-width:.45px">10</text>
<text class="s" font-size="6" textLength="3.2" lengthAdjust="spacingAndGlyphs" x="465.5" y="397.0" style="stroke-width:.45px">2</text>
<text class="s" font-size="7" textLength="6" lengthAdjust="spacingAndGlyphs" transform="translate(425.2 361.7) rotate(-90)" style="stroke-width:.45px">10</text>
<text class="s" font-size="6" textLength="3.2" lengthAdjust="spacingAndGlyphs" transform="translate(421.7 355.4) rotate(-90)" style="stroke-width:.45px">2</text>
<text class="s" font-size="7" textLength="6" lengthAdjust="spacingAndGlyphs" x="475.9" y="400.0" style="stroke-width:.45px">10</text>
<text class="s" font-size="6" textLength="3.2" lengthAdjust="spacingAndGlyphs" x="482.2" y="397.0" style="stroke-width:.45px">3</text>
<text class="s" font-size="7" textLength="6" lengthAdjust="spacingAndGlyphs" transform="translate(425.2 348.3) rotate(-90)" style="stroke-width:.45px">10</text>
<text class="s" font-size="6" textLength="3.2" lengthAdjust="spacingAndGlyphs" transform="translate(421.7 342.0) rotate(-90)" style="stroke-width:.45px">3</text>
<text class="s" font-size="7" textLength="6" lengthAdjust="spacingAndGlyphs" x="492.6" y="400.0" style="stroke-width:.45px">10</text>
<text class="s" font-size="6" textLength="3.2" lengthAdjust="spacingAndGlyphs" x="498.9" y="397.0" style="stroke-width:.45px">4</text>
<text class="s" font-size="7" textLength="6" lengthAdjust="spacingAndGlyphs" transform="translate(425.2 334.9) rotate(-90)" style="stroke-width:.45px">10</text>
<text class="s" font-size="6" textLength="3.2" lengthAdjust="spacingAndGlyphs" transform="translate(421.7 328.6) rotate(-90)" style="stroke-width:.45px">4</text>
<text class="s" font-size="7.2" textLength="16" lengthAdjust="spacingAndGlyphs" x="454.6" y="407.5" style="stroke-width:.45px">FL1-H</text>
<text class="s" font-size="7.2" textLength="17.5" lengthAdjust="spacingAndGlyphs" transform="translate(415.9 369.1) rotate(-90)" style="stroke-width:.45px">FL4-H</text>
<text class="rb" font-size="12" textLength="7.4" lengthAdjust="spacingAndGlyphs" x="488.5" y="338.8">.1</text>
<text class="r" font-size="17" text-anchor="middle" x="463.8" y="324.2" stroke="#000" stroke-width="0.6">v</text>
</g>
</svg>
</body>
</html>
